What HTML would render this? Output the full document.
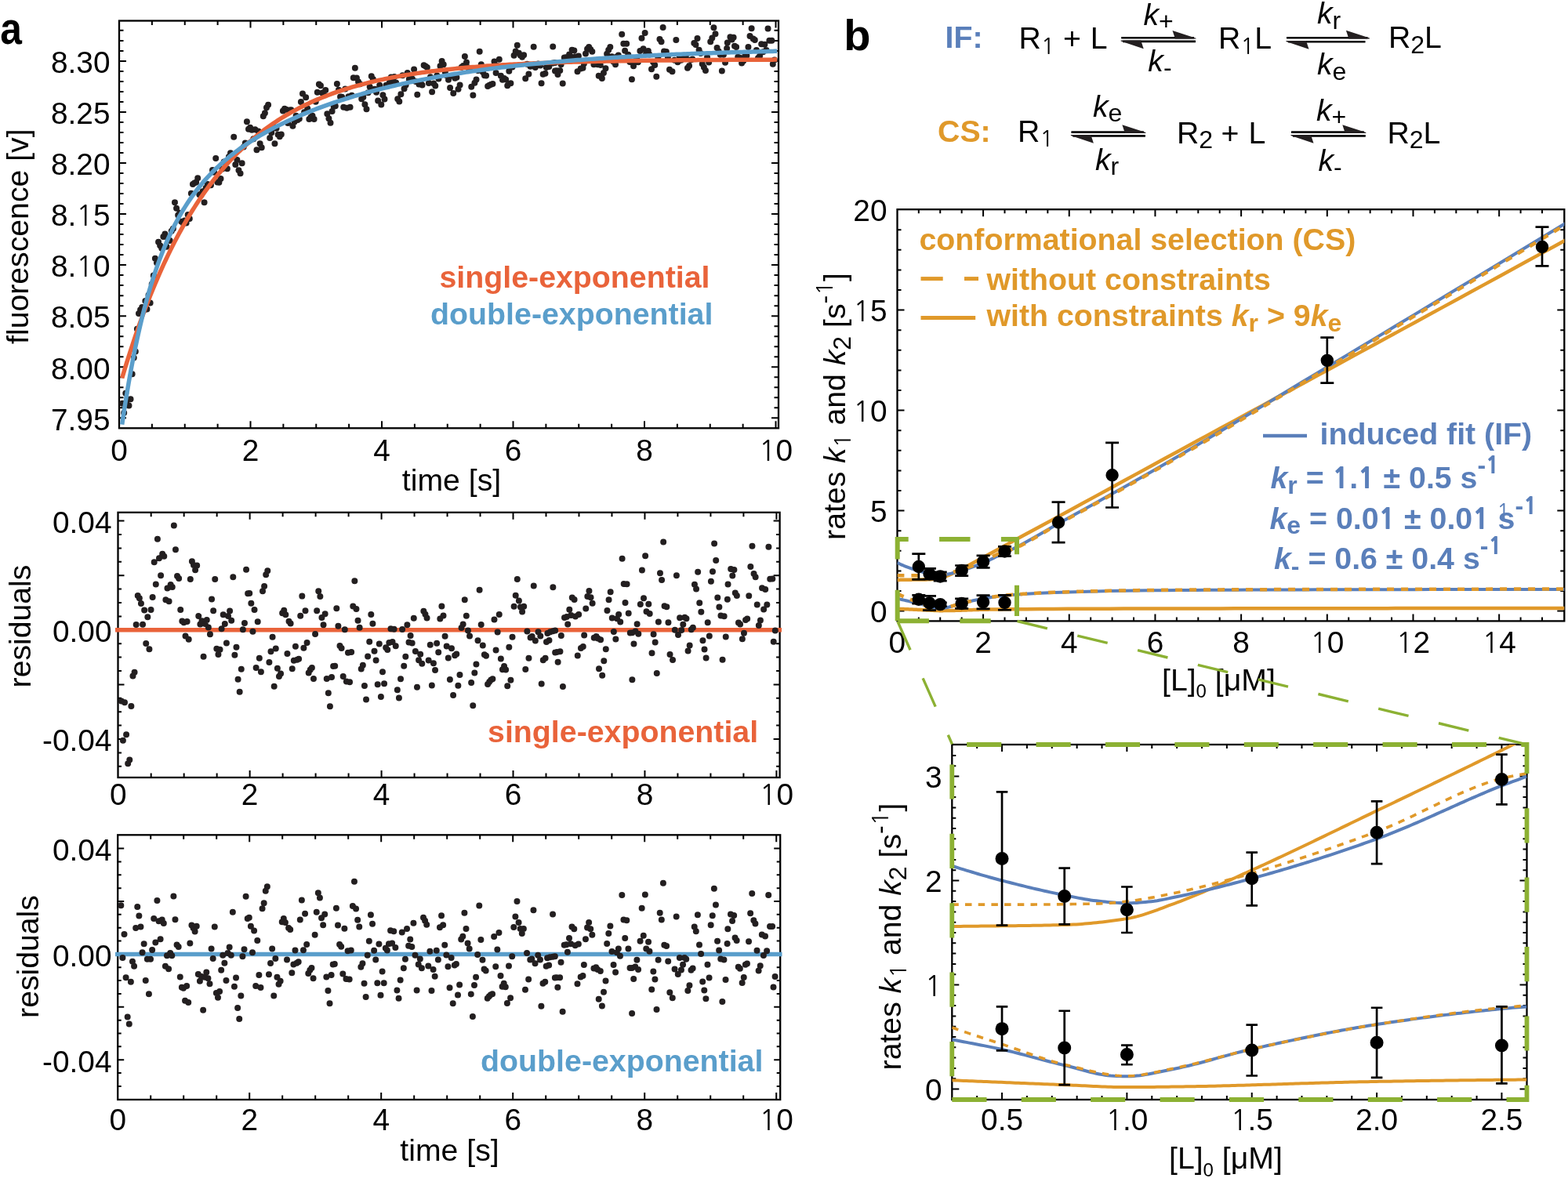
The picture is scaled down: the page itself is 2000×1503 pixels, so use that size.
<!DOCTYPE html>
<html><head><meta charset="utf-8"><title>Figure</title>
<style>html,body{margin:0;padding:0;background:#fff;}svg{display:block;}text{font-family:'Liberation Sans', Arial, Helvetica, sans-serif;}</style>
</head><body>
<svg xmlns="http://www.w3.org/2000/svg" width="2000" height="1503" viewBox="0 0 2000 1503">
<rect width="2000" height="1503" fill="#fff"/>
<rect x="152" y="26.5" width="841" height="519.8" fill="none" stroke="#000" stroke-width="2.3"/>
<path d="M319.5 546.3v-9M319.5 26.5v9M487 546.3v-9M487 26.5v9M654.5 546.3v-9M654.5 26.5v9M822 546.3v-9M822 26.5v9M989.5 546.3v-9M989.5 26.5v9" stroke="#000" stroke-width="2" fill="none"/>
<path d="M193.88 546.3v-5.5M193.88 26.5v5.5M235.75 546.3v-5.5M235.75 26.5v5.5M277.62 546.3v-5.5M277.62 26.5v5.5M361.38 546.3v-5.5M361.38 26.5v5.5M403.25 546.3v-5.5M403.25 26.5v5.5M445.12 546.3v-5.5M445.12 26.5v5.5M528.88 546.3v-5.5M528.88 26.5v5.5M570.75 546.3v-5.5M570.75 26.5v5.5M612.62 546.3v-5.5M612.62 26.5v5.5M696.38 546.3v-5.5M696.38 26.5v5.5M738.25 546.3v-5.5M738.25 26.5v5.5M780.12 546.3v-5.5M780.12 26.5v5.5M863.88 546.3v-5.5M863.88 26.5v5.5M905.75 546.3v-5.5M905.75 26.5v5.5M947.62 546.3v-5.5M947.62 26.5v5.5" stroke="#000" stroke-width="2" fill="none"/>
<path d="M152 533.25h9M993 533.25h-9M152 468.2h9M993 468.2h-9M152 403.15h9M993 403.15h-9M152 338.1h9M993 338.1h-9M152 273.05h9M993 273.05h-9M152 208h9M993 208h-9M152 142.95h9M993 142.95h-9M152 77.9h9M993 77.9h-9" stroke="#000" stroke-width="2" fill="none"/>
<path d="M152 520.24h5.5M993 520.24h-5.5M152 507.23h5.5M993 507.23h-5.5M152 494.22h5.5M993 494.22h-5.5M152 481.21h5.5M993 481.21h-5.5M152 455.19h5.5M993 455.19h-5.5M152 442.18h5.5M993 442.18h-5.5M152 429.17h5.5M993 429.17h-5.5M152 416.16h5.5M993 416.16h-5.5M152 390.14h5.5M993 390.14h-5.5M152 377.13h5.5M993 377.13h-5.5M152 364.12h5.5M993 364.12h-5.5M152 351.11h5.5M993 351.11h-5.5M152 325.09h5.5M993 325.09h-5.5M152 312.08h5.5M993 312.08h-5.5M152 299.07h5.5M993 299.07h-5.5M152 286.06h5.5M993 286.06h-5.5M152 260.04h5.5M993 260.04h-5.5M152 247.03h5.5M993 247.03h-5.5M152 234.02h5.5M993 234.02h-5.5M152 221.01h5.5M993 221.01h-5.5M152 194.99h5.5M993 194.99h-5.5M152 181.98h5.5M993 181.98h-5.5M152 168.97h5.5M993 168.97h-5.5M152 155.96h5.5M993 155.96h-5.5M152 129.94h5.5M993 129.94h-5.5M152 116.93h5.5M993 116.93h-5.5M152 103.92h5.5M993 103.92h-5.5M152 90.91h5.5M993 90.91h-5.5M152 64.89h5.5M993 64.89h-5.5M152 51.88h5.5M993 51.88h-5.5M152 38.87h5.5M993 38.87h-5.5" stroke="#000" stroke-width="2" fill="none"/>
<text x="140.5" y="93.2" font-size="38.8" text-anchor="end" font-weight="normal" fill="#000">8.30</text>
<text x="140.5" y="158.25" font-size="38.8" text-anchor="end" font-weight="normal" fill="#000">8.25</text>
<text x="140.5" y="223.3" font-size="38.8" text-anchor="end" font-weight="normal" fill="#000">8.20</text>
<text x="140.5" y="288.35" font-size="38.8" text-anchor="end" font-weight="normal" fill="#000">8.<tspan font-family="NanumGothic, Liberation Sans, sans-serif" font-size="0.92em">1</tspan>5</text>
<text x="140.5" y="353.4" font-size="38.8" text-anchor="end" font-weight="normal" fill="#000">8.<tspan font-family="NanumGothic, Liberation Sans, sans-serif" font-size="0.92em">1</tspan>0</text>
<text x="140.5" y="418.45" font-size="38.8" text-anchor="end" font-weight="normal" fill="#000">8.05</text>
<text x="140.5" y="483.5" font-size="38.8" text-anchor="end" font-weight="normal" fill="#000">8.00</text>
<text x="140.5" y="548.55" font-size="38.8" text-anchor="end" font-weight="normal" fill="#000">7.95</text>
<text x="152" y="587.5" font-size="38.8" text-anchor="middle" font-weight="normal" fill="#000">0</text>
<text x="319.5" y="587.5" font-size="38.8" text-anchor="middle" font-weight="normal" fill="#000">2</text>
<text x="487" y="587.5" font-size="38.8" text-anchor="middle" font-weight="normal" fill="#000">4</text>
<text x="654.5" y="587.5" font-size="38.8" text-anchor="middle" font-weight="normal" fill="#000">6</text>
<text x="822" y="587.5" font-size="38.8" text-anchor="middle" font-weight="normal" fill="#000">8</text>
<text x="989.5" y="587.5" font-size="38.8" text-anchor="middle" font-weight="normal" fill="#000"><tspan font-family="NanumGothic, Liberation Sans, sans-serif" font-size="0.92em">1</tspan>0</text>
<text x="576" y="626" font-size="39.2" text-anchor="middle" font-weight="normal" fill="#000">time [s]</text>
<text transform="translate(35.9 301.7) rotate(-90)" font-size="39.2" text-anchor="middle">fluorescence [v]</text>
<path d="M156.09 514.87h0M158.18 526.69h0M160.27 501.7h0M162.36 510.28h0M164.45 517.46h0M166.54 509.21h0M168.63 477.24h0M170.72 456.52h0M172.81 448.55h0M174.9 419.81h0M176.99 399.95h0M179.08 395.35h0M181.17 392.04h0M183.26 396.36h0M185.35 384.03h0M187.44 394.39h0M189.53 376.47h0M191.62 386.51h0M193.71 362.52h0M195.8 351.41h0M197.89 329.66h0M199.98 335.32h0M202.07 308.8h0M204.16 313.23h0M206.25 316.74h0M208.34 301.88h0M210.43 298.54h0M212.52 314.85h0M214.61 304.9h0M216.7 306.92h0M218.79 294.7h0M220.88 291.68h0M222.97 258.28h0M225.06 265.79h0M227.15 274.45h0M229.24 271.69h0M231.33 282.85h0M233.42 284.52h0M235.51 281.5h0M237.6 284.41h0M239.69 273.93h0M241.78 278.92h0M243.87 246.78h0M245.96 234.95h0M248.05 233.46h0M250.14 232.47h0M252.23 227.18h0M254.32 248.18h0M256.41 248.97h0M258.5 244.32h0M260.59 258.35h0M262.68 239.8h0M264.77 235.07h0M266.86 235.79h0M268.95 236.29h0M271.04 216.88h0M273.13 219.64h0M275.22 201.95h0M277.31 232.58h0M279.4 232.77h0M281.49 227.89h0M283.58 215.5h0M285.67 206.38h0M287.76 208.36h0M289.85 215.23h0M291.94 200.02h0M294.03 195.36h0M296.12 197.74h0M298.21 174.81h0M300.3 209.88h0M302.39 204h0M304.48 217.29h0M306.57 221.17h0M308.65 208.35h0M310.74 187.48h0M312.83 182.54h0M314.92 155.14h0M317.01 164.64h0M319.1 162.73h0M321.19 165.7h0M323.28 177.32h0M325.37 165.24h0M327.46 191.19h0M329.55 167.55h0M331.64 183.29h0M333.73 188.27h0M335.82 148.13h0M337.91 144.24h0M340 137.14h0M342.09 133.82h0M344.18 175.93h0M346.27 169.31h0M348.36 161.03h0M350.45 183.13h0M352.54 163.71h0M354.63 171.82h0M356.72 174.27h0M358.81 171.62h0M360.9 141.47h0M362.99 138.85h0M365.08 139.74h0M367.17 157.09h0M369.26 140.48h0M371.35 140.33h0M373.44 160.68h0M375.53 155.59h0M377.62 147.76h0M379.71 153.05h0M381.8 151.61h0M383.89 129.95h0M385.98 119.47h0M388.07 143.19h0M390.16 124.37h0M392.25 138.62h0M394.34 152.07h0M396.43 149.62h0M398.52 147.71h0M400.61 152.02h0M402.7 129.81h0M404.79 117.8h0M406.88 107.58h0M408.97 109.22h0M411.06 118.43h0M413.15 121.07h0M415.24 115.03h0M417.33 145.13h0M419.42 151.19h0M421.51 156.77h0M423.6 142.03h0M425.69 136.08h0M427.78 135.22h0M429.87 107.02h0M431.96 114.68h0M434.05 123.44h0M436.14 123.84h0M438.23 136.65h0M440.32 113.61h0M442.41 137.76h0M444.5 123.36h0M446.59 136.74h0M448.68 121.82h0M450.77 99.35h0M452.86 86.7h0M454.95 99.46h0M457.04 104.35h0M459.13 107.15h0M461.22 126.34h0M463.31 124.03h0M465.4 133.26h0M467.49 139.31h0M469.58 118.25h0M471.67 110.67h0M473.76 97.17h0M475.85 101.09h0M477.94 113.7h0M480.03 117.63h0M482.12 128.58h0M484.21 108.85h0M486.3 133.56h0M488.39 121.28h0M490.48 126.48h0M492.57 108.82h0M494.66 109.39h0M496.75 105.65h0M498.84 98.58h0M500.93 104.4h0M503.02 97.98h0M505.11 105.58h0M507.2 126.14h0M509.29 129.6h0M511.38 120.18h0M513.47 96.16h0M515.56 113.33h0M517.65 108.46h0M519.74 93.02h0M521.83 100.98h0M523.92 97.42h0M526.01 100.65h0M528.1 88.46h0M530.19 103.94h0M532.28 120.77h0M534.37 107.57h0M536.46 104.46h0M538.55 108.58h0M540.64 83.26h0M542.73 84.48h0M544.82 85.97h0M546.91 105.9h0M549 98.29h0M551.09 117.31h0M553.18 106.52h0M555.27 109.54h0M557.36 96.44h0M559.45 100.54h0M561.54 84.27h0M563.63 78.08h0M565.72 82.36h0M567.81 91.92h0M569.9 96.42h0M571.99 101.79h0M574.08 111.9h0M576.17 96.78h0M578.26 118.93h0M580.35 99.72h0M582.44 98.85h0M584.53 113.78h0M586.62 108.44h0M588.71 85.74h0M590.8 83.91h0M592.89 72.05h0M594.98 79.5h0M597.07 86.36h0M599.16 88.75h0M601.25 110.82h0M603.34 121.58h0M605.43 105.8h0M607.52 101.57h0M609.61 90.11h0M611.7 65.77h0M613.79 82.2h0M615.88 91.95h0M617.97 96.2h0M620.06 96.62h0M622.15 109.99h0M624.24 108.74h0M626.33 107.66h0M628.42 107.02h0M630.51 78.55h0M632.6 93.01h0M634.69 84.34h0M636.78 75.78h0M638.87 96.77h0M640.96 101.8h0M643.05 100.04h0M645.14 101.57h0M647.23 109.25h0M649.32 90.68h0M651.41 106.24h0M653.5 85.51h0M655.59 70.87h0M657.68 65.46h0M659.77 57.68h0M661.86 67.86h0M663.95 70.71h0M666.04 72.8h0M668.13 70.26h0M670.22 100.13h0M672.31 81.85h0M674.4 94.58h0M676.49 84.66h0M678.58 84.07h0M680.67 59.81h0M682.76 85.92h0M686.4 81.52h0M689.18 83.41h0M690.57 106.19h0M692.66 94.78h0M695.45 93.76h0M696.84 85.92h0M698.23 81.75h0M700.32 85.06h0M701.71 81h0M705.2 59.55h0M705.2 80.47h0M707.98 80.07h0M707.98 90.58h0M710.07 90.29h0M711.46 95.02h0M714.25 89.93h0M715.64 82.27h0M717.73 106.46h0M719.82 73.5h0M722.61 73.06h0M724 76.56h0M726.09 69.54h0M728.18 72.18h0M729.57 63.71h0M732.35 64.57h0M733.75 72.55h0M736.53 91.21h0M737.92 71.53h0M740.71 87.5h0M743.5 86.75h0M744.89 81.25h0M746.98 68.48h0M749.07 62.61h0M751.16 59.93h0M753.24 63.02h0M755.33 65.73h0M757.42 82.14h0M760.21 81.41h0M762.3 82.34h0M763.69 96.81h0M765.78 82.92h0M767.87 99.93h0M769.96 92.89h0M772.46 87.23h0M774.13 68.78h0M776.22 63.64h0M778.31 59.89h0M780.4 72.27h0M782.49 78.72h0M785 82.23h0M786.67 72.43h0M788.76 70.41h0M790.85 73.9h0M793.21 43.73h0M795.3 55.74h0M797.11 64.69h0M799.2 55.78h0M801.29 69.69h0M803.38 79.01h0M805.94 78.86h0M805.94 101.24h0M808.03 84.14h0M810.12 78.1h0M812.21 74.64h0M813.88 79.24h0M816.39 65.09h0M818.48 48.8h0M820.57 62.18h0M822.66 41.96h0M824.05 68.47h0M826.83 64.93h0M828.23 69.5h0M831.01 88.24h0M833.1 79.19h0M835.19 83.02h0M837.28 97.75h0M839.37 73.28h0M841.46 49.99h0M843.55 53.24h0M845.63 35.08h0M847.03 65.59h0M849.81 65.9h0M851.9 73.35h0M853.99 88.63h0M857.47 91.17h0M860.26 76.87h0M862.35 50.9h0M864.44 79.18h0M866.53 71h0M868.61 76.85h0M870.7 74.17h0M872.79 70.75h0M874.88 71.31h0M876.97 86.76h0M879.06 84.09h0M881.15 76.46h0M883.24 75.57h0M885.33 55h0M887.42 57.07h0M889.5 48.91h0M891.59 63.66h0M893.68 68h0M895.77 81.57h0M897.86 85.81h0M899.95 89.89h0M902.04 72.99h0M904.13 79.39h0M906.22 53.33h0M908.31 48.62h0M910.39 35.23h0M912.48 43.25h0M914.57 60.97h0M916.66 65.49h0M918.75 69.63h0M920.84 90.59h0M922.93 69.87h0M925.02 79.67h0M927.11 61.81h0M927.8 54.62h0M931.44 47.25h0M933.53 50.42h0M935.62 47.66h0M937.01 58.68h0M939.1 59.97h0M941.2 72.87h0M943.29 73.61h0M946.08 80.55h0M948.17 77.79h0M950.26 71.53h0M952.35 70.93h0M954.44 59.97h0M956.53 45.99h0M958.62 36.21h0M960.71 49.38h0M962.8 50.95h0M964.89 64.12h0M966.99 74.05h0M969.08 71.57h0M971.17 56.13h0M973.26 66.33h0M975.35 56.83h0M977.44 64.07h0M979.53 36.49h0M981.34 51.83h0M984.41 51.76h0M985.81 81.68h0M987.9 76.4h0" stroke="#231F20" stroke-width="8" stroke-linecap="round" fill="none"/>
<polyline points="155.69,482.35 158.48,473.01 161.27,463.89 164.07,454.97 166.86,446.26 169.66,437.75 172.45,429.44 175.24,421.31 178.04,413.38 180.83,405.62 183.63,398.04 186.42,390.64 189.22,383.41 192.01,376.34 194.8,369.44 197.6,362.69 200.39,356.1 203.19,349.66 205.98,343.37 208.78,337.22 211.57,331.22 214.36,325.35 217.16,319.62 219.95,314.01 222.75,308.54 225.54,303.19 228.34,297.97 231.13,292.87 233.92,287.88 236.72,283.01 239.51,278.25 242.31,273.59 245.1,269.05 247.9,264.61 250.69,260.27 253.48,256.03 256.28,251.89 259.07,247.85 261.87,243.89 264.66,240.03 267.46,236.26 270.25,232.57 273.04,228.97 275.84,225.45 278.63,222.01 281.43,218.65 284.22,215.37 287.02,212.16 289.81,209.03 292.6,205.96 295.4,202.97 298.19,200.05 300.99,197.19 303.78,194.4 306.58,191.68 309.37,189.02 312.16,186.41 314.96,183.87 317.75,181.39 320.55,178.96 323.34,176.59 326.14,174.27 328.93,172.01 331.72,169.8 334.52,167.64 337.31,165.53 340.11,163.46 342.9,161.45 345.7,159.48 348.49,157.56 351.28,155.68 354.08,153.84 356.87,152.05 359.67,150.29 362.46,148.58 365.26,146.91 368.05,145.27 370.84,143.67 373.64,142.11 376.43,140.59 379.23,139.1 382.02,137.64 384.82,136.22 387.61,134.83 390.4,133.47 393.2,132.15 395.99,130.85 398.79,129.58 401.58,128.35 404.38,127.14 407.17,125.96 409.96,124.8 412.76,123.68 415.55,122.58 418.35,121.5 421.14,120.45 423.94,119.42 426.73,118.42 429.52,117.44 432.32,116.48 435.11,115.54 437.91,114.63 440.7,113.73 443.5,112.86 446.29,112.01 449.08,111.17 451.88,110.36 454.67,109.56 457.47,108.79 460.26,108.03 463.06,107.29 465.85,106.56 468.64,105.85 471.44,105.16 474.23,104.48 477.03,103.82 479.82,103.18 482.62,102.55 485.41,101.93 488.2,101.33 491,100.74 493.79,100.17 496.59,99.6 499.38,99.06 502.18,98.52 504.97,98 507.76,97.48 510.56,96.98 513.35,96.5 516.15,96.02 518.94,95.55 521.74,95.1 524.53,94.65 527.32,94.22 530.12,93.79 532.91,93.38 535.71,92.97 538.5,92.58 541.3,92.19 544.09,91.81 546.88,91.44 549.68,91.08 552.47,90.73 555.27,90.38 558.06,90.05 560.86,89.72 563.65,89.39 566.44,89.08 569.24,88.77 572.03,88.47 574.83,88.18 577.62,87.89 580.42,87.62 583.21,87.34 586,87.07 588.8,86.81 591.59,86.56 594.39,86.31 597.18,86.07 599.98,85.83 602.77,85.6 605.56,85.37 608.36,85.15 611.15,84.93 613.95,84.72 616.74,84.51 619.54,84.31 622.33,84.11 625.12,83.92 627.92,83.73 630.71,83.55 633.51,83.37 636.3,83.19 639.1,83.02 641.89,82.85 644.68,82.69 647.48,82.53 650.27,82.37 653.07,82.22 655.86,82.07 658.66,81.93 661.45,81.78 664.24,81.64 667.04,81.51 669.83,81.37 672.63,81.24 675.42,81.12 678.22,80.99 681.01,80.87 683.8,80.75 686.6,80.64 689.39,80.53 692.19,80.42 694.98,80.31 697.78,80.2 700.57,80.1 703.36,80 706.16,79.9 708.95,79.8 711.75,79.71 714.54,79.62 717.34,79.53 720.13,79.44 722.92,79.36 725.72,79.27 728.51,79.19 731.31,79.11 734.1,79.03 736.9,78.96 739.69,78.88 742.48,78.81 745.28,78.74 748.07,78.67 750.87,78.6 753.66,78.54 756.46,78.47 759.25,78.41 762.04,78.35 764.84,78.29 767.63,78.23 770.43,78.17 773.22,78.11 776.02,78.06 778.81,78 781.6,77.95 784.4,77.9 787.19,77.85 789.99,77.8 792.78,77.75 795.58,77.71 798.37,77.66 801.16,77.62 803.96,77.57 806.75,77.53 809.55,77.49 812.34,77.45 815.14,77.41 817.93,77.37 820.72,77.33 823.52,77.29 826.31,77.26 829.11,77.22 831.9,77.19 834.7,77.15 837.49,77.12 840.28,77.09 843.08,77.06 845.87,77.03 848.67,77 851.46,76.97 854.26,76.94 857.05,76.91 859.84,76.88 862.64,76.86 865.43,76.83 868.23,76.8 871.02,76.78 873.82,76.76 876.61,76.73 879.4,76.71 882.2,76.69 884.99,76.66 887.79,76.64 890.58,76.62 893.38,76.6 896.17,76.58 898.96,76.56 901.76,76.54 904.55,76.52 907.35,76.5 910.14,76.49 912.94,76.47 915.73,76.45 918.52,76.43 921.32,76.42 924.11,76.4 926.91,76.39 929.7,76.37 932.5,76.36 935.29,76.34 938.08,76.33 940.88,76.31 943.67,76.3 946.47,76.29 949.26,76.27 952.06,76.26 954.85,76.25 957.64,76.23 960.44,76.22 963.23,76.21 966.03,76.2 968.82,76.19 971.62,76.18 974.41,76.17 977.2,76.16 980,76.15 982.79,76.14 985.59,76.13 988.38,76.12 991.17,76.11" fill="none" stroke="#E9633A" stroke-width="5.5" stroke-linejoin="round"/>
<polyline points="155.69,541.61 158.48,522.93 161.27,505.32 164.07,488.72 166.86,473.06 169.66,458.28 172.45,444.32 175.24,431.13 178.04,418.66 180.83,406.87 183.63,395.7 186.42,385.13 189.22,375.1 192.01,365.6 194.8,356.58 197.6,348.02 200.39,339.88 203.19,332.14 205.98,324.78 208.78,317.77 211.57,311.08 214.36,304.71 217.16,298.63 219.95,292.82 222.75,287.27 225.54,281.95 228.34,276.87 231.13,271.99 233.92,267.32 236.72,262.84 239.51,258.53 242.31,254.39 245.1,250.41 247.9,246.58 250.69,242.88 253.48,239.32 256.28,235.89 259.07,232.57 261.87,229.36 264.66,226.26 267.46,223.26 270.25,220.36 273.04,217.54 275.84,214.81 278.63,212.16 281.43,209.59 284.22,207.09 287.02,204.65 289.81,202.29 292.6,199.99 295.4,197.74 298.19,195.56 300.99,193.43 303.78,191.35 306.58,189.32 309.37,187.34 312.16,185.4 314.96,183.51 317.75,181.66 320.55,179.85 323.34,178.07 326.14,176.34 328.93,174.64 331.72,172.97 334.52,171.34 337.31,169.74 340.11,168.17 342.9,166.63 345.7,165.12 348.49,163.64 351.28,162.18 354.08,160.75 356.87,159.34 359.67,157.96 362.46,156.61 365.26,155.27 368.05,153.96 370.84,152.67 373.64,151.4 376.43,150.15 379.23,148.92 382.02,147.71 384.82,146.52 387.61,145.35 390.4,144.2 393.2,143.07 395.99,141.95 398.79,140.85 401.58,139.76 404.38,138.69 407.17,137.64 409.96,136.61 412.76,135.58 415.55,134.58 418.35,133.59 421.14,132.61 423.94,131.64 426.73,130.69 429.52,129.76 432.32,128.83 435.11,127.92 437.91,127.03 440.7,126.14 443.5,125.27 446.29,124.41 449.08,123.56 451.88,122.72 454.67,121.9 457.47,121.09 460.26,120.28 463.06,119.49 465.85,118.71 468.64,117.94 471.44,117.18 474.23,116.43 477.03,115.69 479.82,114.96 482.62,114.25 485.41,113.54 488.2,112.84 491,112.14 493.79,111.46 496.59,110.79 499.38,110.13 502.18,109.47 504.97,108.83 507.76,108.19 510.56,107.56 513.35,106.94 516.15,106.33 518.94,105.73 521.74,105.13 524.53,104.54 527.32,103.96 530.12,103.39 532.91,102.83 535.71,102.27 538.5,101.72 541.3,101.18 544.09,100.64 546.88,100.11 549.68,99.59 552.47,99.08 555.27,98.57 558.06,98.07 560.86,97.58 563.65,97.09 566.44,96.61 569.24,96.13 572.03,95.66 574.83,95.2 577.62,94.75 580.42,94.29 583.21,93.85 586,93.41 588.8,92.98 591.59,92.55 594.39,92.13 597.18,91.71 599.98,91.3 602.77,90.9 605.56,90.5 608.36,90.1 611.15,89.71 613.95,89.33 616.74,88.95 619.54,88.58 622.33,88.21 625.12,87.84 627.92,87.48 630.71,87.13 633.51,86.78 636.3,86.43 639.1,86.09 641.89,85.76 644.68,85.42 647.48,85.1 650.27,84.77 653.07,84.45 655.86,84.14 658.66,83.83 661.45,83.52 664.24,83.22 667.04,82.92 669.83,82.62 672.63,82.33 675.42,82.05 678.22,81.76 681.01,81.48 683.8,81.21 686.6,80.93 689.39,80.66 692.19,80.4 694.98,80.14 697.78,79.88 700.57,79.62 703.36,79.37 706.16,79.12 708.95,78.88 711.75,78.64 714.54,78.4 717.34,78.16 720.13,77.93 722.92,77.7 725.72,77.47 728.51,77.25 731.31,77.03 734.1,76.81 736.9,76.6 739.69,76.39 742.48,76.18 745.28,75.97 748.07,75.77 750.87,75.57 753.66,75.37 756.46,75.17 759.25,74.98 762.04,74.79 764.84,74.6 767.63,74.41 770.43,74.23 773.22,74.05 776.02,73.87 778.81,73.69 781.6,73.52 784.4,73.35 787.19,73.18 789.99,73.01 792.78,72.85 795.58,72.69 798.37,72.52 801.16,72.37 803.96,72.21 806.75,72.06 809.55,71.9 812.34,71.75 815.14,71.6 817.93,71.46 820.72,71.31 823.52,71.17 826.31,71.03 829.11,70.89 831.9,70.75 834.7,70.62 837.49,70.49 840.28,70.35 843.08,70.22 845.87,70.1 848.67,69.97 851.46,69.84 854.26,69.72 857.05,69.6 859.84,69.48 862.64,69.36 865.43,69.24 868.23,69.13 871.02,69.01 873.82,68.9 876.61,68.79 879.4,68.68 882.2,68.57 884.99,68.47 887.79,68.36 890.58,68.26 893.38,68.15 896.17,68.05 898.96,67.95 901.76,67.85 904.55,67.76 907.35,67.66 910.14,67.57 912.94,67.47 915.73,67.38 918.52,67.29 921.32,67.2 924.11,67.11 926.91,67.02 929.7,66.94 932.5,66.85 935.29,66.77 938.08,66.69 940.88,66.6 943.67,66.52 946.47,66.44 949.26,66.36 952.06,66.29 954.85,66.21 957.64,66.13 960.44,66.06 963.23,65.99 966.03,65.91 968.82,65.84 971.62,65.77 974.41,65.7 977.2,65.63 980,65.56 982.79,65.5 985.59,65.43 988.38,65.36 991.17,65.3" fill="none" stroke="#5A9ECB" stroke-width="5.5" stroke-linejoin="round"/>
<text x="560.5" y="367" font-size="39.3" text-anchor="start" font-weight="bold" fill="#E9633A">single-exponential</text>
<text x="549.1" y="414" font-size="39.3" text-anchor="start" font-weight="bold" fill="#5A9ECB">double-exponential</text>
<rect x="150.5" y="653.8" width="844.1" height="338.2" fill="none" stroke="#000" stroke-width="2.3"/>
<path d="M318.64 992v-9M318.64 653.8v9M486.58 992v-9M486.58 653.8v9M654.52 992v-9M654.52 653.8v9M822.46 992v-9M822.46 653.8v9M990.4 992v-9M990.4 653.8v9" stroke="#000" stroke-width="2" fill="none"/>
<path d="M192.69 992v-5.5M192.69 653.8v5.5M234.67 992v-5.5M234.67 653.8v5.5M276.65 992v-5.5M276.65 653.8v5.5M360.62 992v-5.5M360.62 653.8v5.5M402.61 992v-5.5M402.61 653.8v5.5M444.59 992v-5.5M444.59 653.8v5.5M528.57 992v-5.5M528.57 653.8v5.5M570.55 992v-5.5M570.55 653.8v5.5M612.53 992v-5.5M612.53 653.8v5.5M696.5 992v-5.5M696.5 653.8v5.5M738.49 992v-5.5M738.49 653.8v5.5M780.47 992v-5.5M780.47 653.8v5.5M864.44 992v-5.5M864.44 653.8v5.5M906.43 992v-5.5M906.43 653.8v5.5M948.41 992v-5.5M948.41 653.8v5.5" stroke="#000" stroke-width="2" fill="none"/>
<path d="M150.5 943h8M994.6 943h-8M150.5 873.4h8M994.6 873.4h-8M150.5 803.8h8M994.6 803.8h-8M150.5 734.2h8M994.6 734.2h-8M150.5 664.6h8M994.6 664.6h-8" stroke="#000" stroke-width="2" fill="none"/>
<path d="M150.5 977.8h4.5M994.6 977.8h-4.5M150.5 960.4h4.5M994.6 960.4h-4.5M150.5 925.6h4.5M994.6 925.6h-4.5M150.5 908.2h4.5M994.6 908.2h-4.5M150.5 890.8h4.5M994.6 890.8h-4.5M150.5 856h4.5M994.6 856h-4.5M150.5 838.6h4.5M994.6 838.6h-4.5M150.5 821.2h4.5M994.6 821.2h-4.5M150.5 786.4h4.5M994.6 786.4h-4.5M150.5 769h4.5M994.6 769h-4.5M150.5 751.6h4.5M994.6 751.6h-4.5M150.5 716.8h4.5M994.6 716.8h-4.5M150.5 699.4h4.5M994.6 699.4h-4.5M150.5 682h4.5M994.6 682h-4.5" stroke="#000" stroke-width="2" fill="none"/>
<text x="142.5" y="679.9" font-size="38.8" text-anchor="end" font-weight="normal" fill="#000">0.04</text>
<text x="142.5" y="819.1" font-size="38.8" text-anchor="end" font-weight="normal" fill="#000">0.00</text>
<text x="142.5" y="958.3" font-size="38.8" text-anchor="end" font-weight="normal" fill="#000">-0.04</text>
<text x="150.7" y="1027" font-size="38.8" text-anchor="middle" font-weight="normal" fill="#000">0</text>
<text x="318.64" y="1027" font-size="38.8" text-anchor="middle" font-weight="normal" fill="#000">2</text>
<text x="486.58" y="1027" font-size="38.8" text-anchor="middle" font-weight="normal" fill="#000">4</text>
<text x="654.52" y="1027" font-size="38.8" text-anchor="middle" font-weight="normal" fill="#000">6</text>
<text x="822.46" y="1027" font-size="38.8" text-anchor="middle" font-weight="normal" fill="#000">8</text>
<text x="990.4" y="1027" font-size="38.8" text-anchor="middle" font-weight="normal" fill="#000"><tspan font-family="NanumGothic, Liberation Sans, sans-serif" font-size="0.92em">1</tspan>0</text>
<text transform="translate(39 799) rotate(-90)" font-size="39.2" text-anchor="middle">residuals</text>
<line x1="147" y1="803.8" x2="997" y2="803.8" stroke="#E9633A" stroke-width="5.5"/>
<path d="M154.8 894.43h0M156.89 944.73h0M158.99 896.22h0M161.08 937.21h0M163.18 974.16h0M165.28 969.5h0M167.37 901.1h0M169.47 862.52h0M171.56 857.73h0M173.66 797.12h0M175.75 759.95h0M177.85 763.36h0M179.94 769.93h0M182.04 796.64h0M184.13 778.55h0M186.23 820.91h0M188.33 787.37h0M190.42 828.36h0M192.52 778.09h0M194.61 762.04h0M196.71 717.28h0M198.8 745.62h0M200.9 687.64h0M202.99 712.24h0M205.09 734.13h0M207.18 706.71h0M209.28 709.87h0M211.38 765.37h0M213.47 750.44h0M215.57 767.33h0M217.66 745.91h0M219.76 748.94h0M221.85 670.5h0M223.95 701.28h0M226.04 734.96h0M228.14 737.92h0M230.23 777.94h0M232.33 792.41h0M234.43 794.15h0M236.52 811.58h0M238.62 793.04h0M240.71 815.69h0M242.81 738.9h0M244.9 716.26h0M247 721.1h0M249.09 727.14h0M251.19 721.55h0M253.28 786.11h0M255.38 796.48h0M257.48 792.16h0M259.57 837.64h0M261.67 795.88h0M263.76 790.91h0M265.86 800.39h0M267.95 809.16h0M270.05 764.57h0M272.14 779.13h0M274.24 738.88h0M276.33 827.72h0M278.43 835.07h0M280.53 828.71h0M282.62 802.15h0M284.72 784.23h0M286.81 795.88h0M288.91 820.49h0M291 785.95h0M293.1 779.52h0M295.19 791.83h0M297.29 736.32h0M299.38 835.86h0M301.48 825.75h0M303.58 866.83h0M305.67 882.65h0M307.77 853.72h0M309.86 803.14h0M311.96 795.08h0M314.05 726.85h0M316.15 757.26h0M318.24 757.06h0M320.34 769.82h0M322.43 805.64h0M324.53 777.96h0M326.63 851.94h0M328.72 793.2h0M330.82 839.72h0M332.91 857.37h0M335.01 754.27h0M337.1 748.06h0M339.2 733.18h0M341.29 728.37h0M343.39 844.98h0M345.48 831.17h0M347.58 812.86h0M349.68 875.74h0M351.77 827.52h0M353.87 852.85h0M355.96 863h0M358.06 859.42h0M360.15 782.25h0M362.25 778.63h0M364.34 784.35h0M366.44 834.05h0M368.53 792.85h0M370.63 795.61h0M372.73 853.17h0M374.82 842.63h0M376.92 824.7h0M379.01 841.8h0M381.11 840.85h0M383.2 785.79h0M385.3 760.56h0M387.39 826.77h0M389.49 779.14h0M391.58 819.92h0M393.68 858.51h0M395.78 854.53h0M397.87 851.98h0M399.97 865.99h0M402.06 809.02h0M404.16 779.29h0M406.25 754.31h0M408.35 761.04h0M410.44 787.94h0M412.54 797.24h0M414.63 783.29h0M416.73 865.97h0M418.83 884.3h0M420.92 901.32h0M423.02 863.95h0M425.11 850.07h0M427.21 849.73h0M429.3 776.25h0M431.4 798.68h0M433.49 823.98h0M435.59 826.91h0M437.68 863h0M439.78 803.16h0M441.88 869.51h0M443.97 832.72h0M446.07 870.21h0M448.16 831.96h0M450.26 773.5h0M452.35 741.28h0M454.45 776.99h0M456.54 791.63h0M458.64 800.63h0M460.73 853.48h0M462.83 848.76h0M464.93 874.9h0M467.02 892.53h0M469.12 837.58h0M471.21 818.7h0M473.31 783.93h0M475.4 795.75h0M477.5 830.78h0M479.59 842.59h0M481.69 873.13h0M483.78 821.6h0M485.88 888.91h0M487.98 857.27h0M490.07 872.36h0M492.17 826.28h0M494.26 828.94h0M496.36 820.07h0M498.45 802.24h0M500.55 818.88h0M502.64 802.78h0M504.74 824.17h0M506.83 880.17h0M508.93 890.45h0M511.03 866.24h0M513.12 802.94h0M515.22 849.84h0M517.31 837.74h0M519.41 797.36h0M521.5 819.59h0M523.6 810.93h0M525.69 820.45h0M527.79 788.72h0M529.88 830.97h0M531.98 876.83h0M534.08 842.35h0M536.17 834.83h0M538.27 846.64h0M540.36 779.69h0M542.46 783.7h0M544.55 788.43h0M546.65 842.5h0M548.74 822.85h0M550.84 874.45h0M552.93 846.29h0M555.03 855.05h0M557.13 820.68h0M559.22 832.32h0M561.32 789.44h0M563.41 773.53h0M565.51 785.6h0M567.6 811.81h0M569.7 824.45h0M571.79 839.4h0M573.89 867.05h0M575.98 827.18h0M578.08 886.99h0M580.18 836.17h0M582.27 834.38h0M584.37 874.86h0M586.46 861.1h0M588.56 800.9h0M590.65 796.51h0M592.75 765.3h0M594.84 785.72h0M596.94 804.56h0M599.03 811.43h0M601.13 870.95h0M603.23 900.17h0M605.32 858.43h0M607.42 847.55h0M609.51 817.35h0M611.61 752.67h0M613.7 797.04h0M615.8 823.52h0M617.89 835.29h0M619.99 836.82h0M622.08 872.97h0M624.18 870.03h0M626.28 867.53h0M628.37 866.18h0M630.47 790.4h0M632.56 829.43h0M634.66 806.59h0M636.75 784.04h0M638.85 840.53h0M640.94 854.33h0M643.04 849.95h0M645.13 854.38h0M647.23 875.24h0M649.33 825.87h0M651.42 867.8h0M653.52 812.65h0M655.61 773.81h0M657.71 759.63h0M659.8 739.11h0M661.9 766.62h0M663.99 774.51h0M666.09 780.39h0M668.18 773.86h0M670.28 854.02h0M672.38 805.38h0M674.47 839.68h0M676.57 813.39h0M678.66 812.07h0M680.76 747.42h0M682.85 817.49h0M686.5 806.13h0M689.29 811.48h0M690.69 872.58h0M692.78 842.27h0M695.58 839.84h0M696.97 819h0M698.37 807.98h0M700.46 817.05h0M701.86 806.32h0M705.35 749.28h0M705.35 805.24h0M708.14 804.41h0M708.14 832.54h0M710.24 831.96h0M711.63 844.74h0M714.43 831.37h0M715.82 810.98h0M717.92 875.88h0M720.01 787.89h0M722.8 786.93h0M724.2 796.41h0M726.29 777.8h0M728.39 785.02h0M729.79 762.47h0M732.58 764.98h0M733.97 786.43h0M736.77 836.55h0M738.16 784h0M740.96 826.91h0M743.75 825.11h0M745.15 810.5h0M747.24 776.48h0M749.33 760.92h0M751.43 753.88h0M753.52 762.27h0M755.62 769.65h0M757.71 813.67h0M760.51 811.88h0M762.6 814.51h0M764 853.28h0M766.09 816.25h0M768.19 861.86h0M770.28 843.15h0M772.79 828.14h0M774.47 778.9h0M776.56 765.23h0M778.66 755.33h0M780.75 788.55h0M782.85 805.9h0M785.36 815.42h0M787.04 789.27h0M789.13 783.98h0M791.22 793.41h0M793.6 712.8h0M795.69 745.03h0M797.51 769.06h0M799.6 745.32h0M801.7 782.59h0M803.79 807.61h0M806.36 807.34h0M806.36 867.2h0M808.46 821.54h0M810.55 805.45h0M812.64 796.29h0M814.32 808.66h0M816.83 770.9h0M818.93 727.41h0M821.02 763.26h0M823.12 709.25h0M824.51 780.22h0M827.31 770.85h0M828.7 783.12h0M831.5 833.33h0M833.59 809.18h0M835.68 819.51h0M837.78 858.98h0M839.87 793.58h0M841.97 731.36h0M844.06 740.1h0M846.16 691.59h0M847.55 773.24h0M850.35 774.14h0M852.44 794.14h0M854.53 835.06h0M858.03 841.96h0M860.82 803.78h0M862.91 734.36h0M865.01 810.05h0M867.1 788.23h0M869.2 803.92h0M871.29 796.82h0M873.39 787.7h0M875.48 789.26h0M877.57 830.62h0M879.67 823.53h0M881.76 803.16h0M883.86 800.83h0M885.95 745.85h0M888.05 751.45h0M890.14 729.65h0M892.24 769.15h0M894.33 780.82h0M896.43 817.15h0M898.52 828.53h0M900.61 839.47h0M902.71 794.31h0M904.8 811.46h0M906.9 741.78h0M908.99 729.22h0M911.09 693.44h0M913.18 714.93h0M915.28 762.38h0M917.37 774.49h0M919.46 785.59h0M921.56 841.7h0M923.65 786.31h0M925.75 812.56h0M927.84 764.82h0M928.54 745.59h0M932.19 725.92h0M934.28 734.45h0M936.38 727.09h0M937.78 756.59h0M939.87 760.07h0M941.97 794.58h0M944.07 796.62h0M946.86 815.21h0M948.96 807.86h0M951.05 791.12h0M953.15 789.55h0M955.25 760.25h0M957.34 722.88h0M959.44 696.76h0M961.54 732.01h0M963.63 736.22h0M965.73 771.47h0M967.83 798.06h0M969.92 791.44h0M972.02 750.17h0M974.12 777.48h0M976.21 752.1h0M978.31 771.47h0M980.41 697.72h0M982.22 738.77h0M985.3 738.6h0M986.7 818.66h0M988.79 804.54h0" stroke="#231F20" stroke-width="8" stroke-linecap="round" fill="none"/>
<text x="622.1" y="947" font-size="39.3" text-anchor="start" font-weight="bold" fill="#E9633A">single-exponential</text>
<rect x="150.2" y="1065.3" width="845" height="337.7" fill="none" stroke="#000" stroke-width="2.3"/>
<path d="M318.2 1403v-9M318.2 1065.3v9M486.2 1403v-9M486.2 1065.3v9M654.2 1403v-9M654.2 1065.3v9M822.2 1403v-9M822.2 1065.3v9M990.2 1403v-9M990.2 1065.3v9" stroke="#000" stroke-width="2" fill="none"/>
<path d="M192.2 1403v-5.5M192.2 1065.3v5.5M234.2 1403v-5.5M234.2 1065.3v5.5M276.2 1403v-5.5M276.2 1065.3v5.5M360.2 1403v-5.5M360.2 1065.3v5.5M402.2 1403v-5.5M402.2 1065.3v5.5M444.2 1403v-5.5M444.2 1065.3v5.5M528.2 1403v-5.5M528.2 1065.3v5.5M570.2 1403v-5.5M570.2 1065.3v5.5M612.2 1403v-5.5M612.2 1065.3v5.5M696.2 1403v-5.5M696.2 1065.3v5.5M738.2 1403v-5.5M738.2 1065.3v5.5M780.2 1403v-5.5M780.2 1065.3v5.5M864.2 1403v-5.5M864.2 1065.3v5.5M906.2 1403v-5.5M906.2 1065.3v5.5M948.2 1403v-5.5M948.2 1065.3v5.5" stroke="#000" stroke-width="2" fill="none"/>
<path d="M150.2 1352.2h8M995.2 1352.2h-8M150.2 1284.8h8M995.2 1284.8h-8M150.2 1217.4h8M995.2 1217.4h-8M150.2 1150h8M995.2 1150h-8M150.2 1082.6h8M995.2 1082.6h-8" stroke="#000" stroke-width="2" fill="none"/>
<path d="M150.2 1385.9h4.5M995.2 1385.9h-4.5M150.2 1369.05h4.5M995.2 1369.05h-4.5M150.2 1335.35h4.5M995.2 1335.35h-4.5M150.2 1318.5h4.5M995.2 1318.5h-4.5M150.2 1301.65h4.5M995.2 1301.65h-4.5M150.2 1267.95h4.5M995.2 1267.95h-4.5M150.2 1251.1h4.5M995.2 1251.1h-4.5M150.2 1234.25h4.5M995.2 1234.25h-4.5M150.2 1200.55h4.5M995.2 1200.55h-4.5M150.2 1183.7h4.5M995.2 1183.7h-4.5M150.2 1166.85h4.5M995.2 1166.85h-4.5M150.2 1133.15h4.5M995.2 1133.15h-4.5M150.2 1116.3h4.5M995.2 1116.3h-4.5M150.2 1099.45h4.5M995.2 1099.45h-4.5" stroke="#000" stroke-width="2" fill="none"/>
<text x="142.5" y="1097.9" font-size="38.8" text-anchor="end" font-weight="normal" fill="#000">0.04</text>
<text x="142.5" y="1232.7" font-size="38.8" text-anchor="end" font-weight="normal" fill="#000">0.00</text>
<text x="142.5" y="1367.5" font-size="38.8" text-anchor="end" font-weight="normal" fill="#000">-0.04</text>
<text x="150.2" y="1441.5" font-size="38.8" text-anchor="middle" font-weight="normal" fill="#000">0</text>
<text x="318.2" y="1441.5" font-size="38.8" text-anchor="middle" font-weight="normal" fill="#000">2</text>
<text x="486.2" y="1441.5" font-size="38.8" text-anchor="middle" font-weight="normal" fill="#000">4</text>
<text x="654.2" y="1441.5" font-size="38.8" text-anchor="middle" font-weight="normal" fill="#000">6</text>
<text x="822.2" y="1441.5" font-size="38.8" text-anchor="middle" font-weight="normal" fill="#000">8</text>
<text x="990.2" y="1441.5" font-size="38.8" text-anchor="middle" font-weight="normal" fill="#000"><tspan font-family="NanumGothic, Liberation Sans, sans-serif" font-size="0.92em">1</tspan>0</text>
<text x="573.5" y="1481" font-size="39.2" text-anchor="middle" font-weight="normal" fill="#000">time [s]</text>
<text transform="translate(49 1220.5) rotate(-90)" font-size="39.2" text-anchor="middle">residuals</text>
<line x1="147" y1="1217.4" x2="997.5" y2="1217.4" stroke="#5A9ECB" stroke-width="5.5"/>
<path d="M154.3 1155.3h0M156.4 1222.07h0M158.49 1191.9h0M160.59 1247.21h0M162.68 1297.5h0M164.78 1306.44h0M166.88 1252.66h0M168.97 1226.82h0M171.07 1232.83h0M173.17 1183.94h0M175.26 1156.98h0M177.36 1168.57h0M179.45 1182.54h0M181.55 1215.37h0M183.65 1204.19h0M185.74 1250.99h0M187.84 1223.75h0M189.94 1268.17h0M192.03 1223.75h0M194.13 1212.01h0M196.22 1172.06h0M198.32 1202.52h0M200.42 1149.02h0M202.51 1175.14h0M204.61 1198.32h0M206.71 1173.46h0M208.8 1177.93h0M210.9 1232.83h0M212.99 1219.28h0M215.09 1236.32h0M217.19 1216.06h0M219.28 1219.28h0M221.38 1143.43h0M223.47 1173.18h0M225.57 1205.59h0M227.67 1208.1h0M229.76 1246.38h0M231.86 1259.79h0M233.96 1260.76h0M236.05 1276.83h0M238.15 1257.97h0M240.24 1278.92h0M242.34 1203.49h0M244.44 1180.45h0M246.53 1183.94h0M248.63 1188.55h0M250.73 1181.84h0M252.82 1243.02h0M254.92 1251.68h0M257.01 1246.1h0M259.11 1288.7h0M261.21 1246.8h0M263.3 1240.51h0M265.4 1248.19h0M267.49 1255.18h0M269.59 1210.48h0M271.69 1223.05h0M273.78 1182.54h0M275.88 1267.05h0M277.98 1272.64h0M280.07 1264.95h0M282.17 1237.72h0M284.26 1218.86h0M286.36 1228.64h0M288.46 1250.99h0M290.55 1216.06h0M292.65 1208.38h0M294.75 1218.86h0M296.84 1163.68h0M298.94 1258.67h0M301.03 1247.49h0M303.13 1285.91h0M305.23 1299.88h0M307.32 1270.54h0M309.42 1220.26h0M311.51 1211.18h0M313.61 1143.85h0M315.71 1172.06h0M317.8 1170.67h0M319.9 1181.84h0M322 1215.37h0M324.09 1187.43h0M326.19 1257.97h0M328.28 1200h0M330.38 1244h0M332.48 1260.07h0M334.57 1159.21h0M336.67 1152.23h0M338.77 1136.86h0M340.86 1131.28h0M342.96 1243.3h0M345.05 1229.06h0M347.15 1210.48h0M349.25 1270.54h0M351.34 1223.05h0M353.44 1246.8h0M355.54 1255.87h0M357.63 1251.68h0M359.73 1176.25h0M361.82 1172.06h0M363.92 1176.95h0M366.02 1224.45h0M368.11 1183.94h0M370.21 1186.03h0M372.3 1241.21h0M374.4 1230.45h0M376.5 1212.57h0M378.59 1228.64h0M380.69 1227.24h0M382.79 1173.46h0M384.88 1148.6h0M386.98 1212.29h0M389.07 1165.78h0M391.17 1204.89h0M393.27 1241.91h0M395.36 1237.72h0M397.46 1234.92h0M399.56 1248.19h0M401.65 1192.74h0M403.75 1163.68h0M405.84 1139.24h0M407.94 1145.52h0M410.04 1171.37h0M412.13 1180.17h0M414.23 1166.48h0M416.33 1246.38h0M418.42 1263.98h0M420.52 1280.32h0M422.61 1244h0M424.71 1230.45h0M426.81 1230.03h0M428.9 1158.79h0M431 1180.45h0M433.09 1204.89h0M435.19 1207.68h0M437.29 1242.6h0M439.38 1184.64h0M441.48 1248.89h0M443.58 1213.27h0M445.67 1249.59h0M447.77 1212.57h0M449.86 1156h0M451.96 1124.85h0M454.06 1159.49h0M456.15 1173.74h0M458.25 1182.54h0M460.35 1233.8h0M462.44 1229.33h0M464.54 1254.76h0M466.63 1271.94h0M468.73 1218.86h0M470.83 1200.7h0M472.92 1167.18h0M475.02 1178.77h0M477.11 1212.85h0M479.21 1224.45h0M481.31 1254.2h0M483.4 1204.47h0M485.5 1269.84h0M487.6 1239.39h0M489.69 1254.2h0M491.79 1209.78h0M493.88 1212.57h0M495.98 1204.19h0M498.08 1187.15h0M500.17 1203.49h0M502.27 1188.13h0M504.37 1209.08h0M506.46 1263.56h0M508.56 1273.75h0M510.65 1250.57h0M512.75 1189.52h0M514.85 1235.2h0M516.94 1223.75h0M519.04 1184.92h0M521.13 1206.71h0M523.23 1198.6h0M525.33 1208.1h0M527.42 1177.65h0M529.52 1218.86h0M531.62 1263.56h0M533.71 1230.45h0M535.81 1223.47h0M537.9 1235.2h0M540 1170.67h0M542.1 1174.86h0M544.19 1179.75h0M546.29 1232.41h0M548.39 1213.69h0M550.48 1263.98h0M552.58 1237.02h0M554.67 1245.82h0M556.77 1212.85h0M558.87 1224.45h0M560.96 1183.24h0M563.06 1168.15h0M565.16 1180.17h0M567.25 1205.87h0M569.35 1218.44h0M571.44 1233.25h0M573.54 1260.34h0M575.64 1222.07h0M577.73 1280.32h0M579.83 1231.43h0M581.92 1230.03h0M584.02 1269.56h0M586.12 1256.57h0M588.21 1198.6h0M590.31 1194.69h0M592.41 1164.8h0M594.5 1184.92h0M596.6 1203.49h0M598.69 1210.48h0M600.79 1268.45h0M602.89 1297.08h0M604.98 1256.99h0M607.08 1246.8h0M609.18 1217.88h0M611.27 1155.58h0M613.37 1198.88h0M615.46 1224.86h0M617.56 1236.6h0M619.66 1238.41h0M621.75 1273.75h0M623.85 1271.24h0M625.95 1269.14h0M628.04 1268.17h0M630.14 1195.11h0M632.23 1233.25h0M634.33 1211.46h0M636.43 1189.94h0M638.52 1244.98h0M640.62 1258.67h0M642.71 1254.76h0M644.81 1259.37h0M646.91 1279.9h0M649 1232.41h0M651.1 1273.34h0M653.2 1220.26h0M655.29 1182.96h0M657.39 1169.55h0M659.48 1149.99h0M661.58 1176.95h0M663.68 1184.92h0M665.77 1190.92h0M667.87 1184.92h0M669.97 1262.86h0M672.06 1216.06h0M674.16 1249.59h0M676.25 1224.45h0M678.35 1223.47h0M680.45 1161.17h0M682.54 1229.33h0M686.19 1218.86h0M688.98 1224.45h0M690.38 1283.81h0M692.48 1254.76h0M695.27 1252.8h0M696.67 1232.83h0M698.06 1222.35h0M700.16 1231.43h0M701.56 1221.23h0M705.05 1166.48h0M705.05 1220.67h0M707.84 1220.26h0M707.84 1247.49h0M709.94 1247.21h0M711.33 1259.79h0M714.13 1247.21h0M715.52 1227.66h0M717.62 1290.8h0M719.71 1205.87h0M722.51 1205.31h0M723.91 1214.67h0M726 1196.93h0M728.1 1204.19h0M729.49 1182.54h0M732.29 1185.33h0M733.68 1206.29h0M736.48 1255.18h0M737.87 1204.47h0M740.67 1246.38h0M743.46 1244.98h0M744.86 1231.01h0M746.95 1198.32h0M749.05 1183.52h0M751.14 1176.95h0M753.24 1185.33h0M755.33 1192.74h0M757.43 1235.62h0M760.22 1234.22h0M762.32 1237.02h0M763.72 1274.73h0M765.81 1239.11h0M767.91 1283.53h0M770 1265.65h0M772.52 1251.4h0M774.19 1203.91h0M776.29 1190.92h0M778.38 1181.56h0M780.48 1213.97h0M782.57 1231.01h0M785.09 1240.51h0M786.76 1215.37h0M788.86 1210.48h0M790.95 1219.84h0M793.33 1142.03h0M795.42 1173.46h0M797.24 1196.93h0M799.33 1174.16h0M801.43 1210.48h0M803.53 1234.92h0M806.1 1234.92h0M806.1 1292.89h0M808.19 1248.89h0M810.29 1233.53h0M812.38 1224.86h0M814.06 1237.02h0M816.57 1200.7h0M818.67 1158.79h0M820.76 1193.72h0M822.86 1141.61h0M824.25 1210.48h0M827.05 1201.68h0M828.44 1213.69h0M831.24 1262.58h0M833.33 1239.39h0M835.43 1249.59h0M837.52 1288h0M839.62 1224.86h0M841.71 1164.8h0M843.81 1173.46h0M845.91 1126.67h0M847.3 1205.87h0M850.1 1206.99h0M852.19 1226.54h0M854.29 1266.35h0M857.78 1273.34h0M860.57 1236.6h0M862.67 1169.55h0M864.76 1243.02h0M866.86 1222.07h0M868.95 1237.44h0M871.05 1230.73h0M873.14 1222.07h0M875.24 1223.75h0M877.33 1263.98h0M879.43 1257.27h0M881.52 1237.72h0M883.62 1235.62h0M885.72 1182.54h0M887.81 1188.13h0M889.91 1167.18h0M892 1205.59h0M894.1 1217.04h0M896.19 1252.38h0M898.29 1263.56h0M900.38 1274.31h0M902.48 1230.73h0M904.57 1247.49h0M906.67 1180.17h0M908.76 1168.15h0M910.86 1133.65h0M912.95 1154.6h0M915.05 1200.7h0M917.14 1212.57h0M919.24 1223.47h0M921.33 1277.94h0M923.43 1224.45h0M925.53 1250.01h0M927.62 1203.91h0M928.32 1185.33h0M931.96 1166.53h0M934.06 1174.92h0M936.16 1167.93h0M937.56 1196.59h0M939.65 1200.09h0M941.75 1233.64h0M943.85 1235.74h0M946.65 1253.92h0M948.74 1246.93h0M950.84 1230.85h0M952.94 1229.45h0M955.03 1201.21h0M957.13 1165.13h0M959.23 1139.96h0M961.33 1174.22h0M963.42 1178.41h0M965.52 1212.67h0M967.62 1238.54h0M969.72 1232.25h0M971.81 1192.4h0M973.91 1218.96h0M976.01 1194.49h0M978.11 1213.37h0M980.2 1142.06h0M982.02 1181.91h0M985.1 1181.91h0M986.49 1259.51h0M988.59 1245.95h0" stroke="#231F20" stroke-width="8" stroke-linecap="round" fill="none"/>
<text x="613.1" y="1367" font-size="39.3" text-anchor="start" font-weight="bold" fill="#5A9ECB">double-exponential</text>
<text transform="translate(0.3 55.8) scale(0.88 1)" font-size="56.5" font-weight="bold">a</text>
<text x="1076.2" y="63.6" font-size="56" text-anchor="start" font-weight="bold" fill="#000">b</text>
<text x="1205.5" y="60.75" font-size="39.3" text-anchor="start" font-weight="bold" fill="#5A7FBA">IF:</text>
<text x="1299.5" y="62.4" font-size="39.2">R<tspan font-size="32" dy="6.3"><tspan font-family="NanumGothic, Liberation Sans, sans-serif" font-size="0.92em">1</tspan></tspan></text>
<text x="1356" y="62.4" font-size="39.2" text-anchor="start" font-weight="normal" fill="#000">+</text>
<text x="1390.8" y="62.4" font-size="39.2" text-anchor="start" font-weight="normal" fill="#000">L</text>
<path d="M1430.2 48.3H1523M1432.2 52.9H1525" stroke="#000" stroke-width="2.6" fill="none"/>
<polygon points="1499,49.6 1495.5,38.9 1525.5,48.7 1525.5,49.6" fill="#231F20"/>
<polygon points="1455.2,51.6 1458.7,62.3 1429.7,52.5 1429.7,51.6" fill="#231F20"/>
<text x="1458.5" y="31.8" font-size="39.2" fill="#000" font-weight="normal"><tspan font-style="italic">k</tspan><tspan font-size="32" dy="6.5">+</tspan></text>
<text x="1464.3" y="90.6" font-size="39.2" fill="#000" font-weight="normal"><tspan font-style="italic">k</tspan><tspan font-size="32" dy="6.5">-</tspan></text>
<text x="1554" y="62.4" font-size="39.2">R<tspan font-size="32" dy="6.3"><tspan font-family="NanumGothic, Liberation Sans, sans-serif" font-size="0.92em">1</tspan></tspan><tspan dy="-6.3">L</tspan></text>
<path d="M1641 48.2H1744.4M1643 53.3H1741.5" stroke="#000" stroke-width="2.6" fill="none"/>
<polygon points="1720.4,49.5 1716.9,38.8 1746.9,48.6 1746.9,49.5" fill="#231F20"/>
<polygon points="1666,52 1669.5,62.7 1640.5,52.9 1640.5,52" fill="#231F20"/>
<text x="1680" y="30" font-size="39.2" fill="#000" font-weight="normal"><tspan font-style="italic">k</tspan><tspan font-size="32" dy="6.5">r</tspan></text>
<text x="1680" y="95" font-size="39.2" fill="#000" font-weight="normal"><tspan font-style="italic">k</tspan><tspan font-size="32" dy="6.5">e</tspan></text>
<text x="1771" y="61.3" font-size="39.2">R<tspan font-size="32" dy="6.3">2</tspan><tspan dy="-6.3">L</tspan></text>
<text x="1196" y="181.25" font-size="39.3" text-anchor="start" font-weight="bold" fill="#E0992A">CS:</text>
<text x="1298" y="180.5" font-size="39.2">R<tspan font-size="32" dy="6.3"><tspan font-family="NanumGothic, Liberation Sans, sans-serif" font-size="0.92em">1</tspan></tspan></text>
<path d="M1366.4 168.6H1458.9M1368.4 173.4H1460.9" stroke="#000" stroke-width="2.6" fill="none"/>
<polygon points="1434.9,169.9 1431.4,159.2 1461.4,169 1461.4,169.9" fill="#231F20"/>
<polygon points="1391.4,172.1 1394.9,182.8 1365.9,173 1365.9,172.1" fill="#231F20"/>
<text x="1394" y="148.9" font-size="39.2" fill="#000" font-weight="normal"><tspan font-style="italic">k</tspan><tspan font-size="32" dy="6.5">e</tspan></text>
<text x="1397" y="216.5" font-size="39.2" fill="#000" font-weight="normal"><tspan font-style="italic">k</tspan><tspan font-size="32" dy="6.5">r</tspan></text>
<text x="1501" y="182.5" font-size="39.2">R<tspan font-size="32" dy="6.3">2</tspan></text>
<text x="1557.5" y="182.5" font-size="39.2" text-anchor="start" font-weight="normal" fill="#000">+</text>
<text x="1592.5" y="182.5" font-size="39.2" text-anchor="start" font-weight="normal" fill="#000">L</text>
<path d="M1647 168.6H1739.8M1649 173.4H1741.8" stroke="#000" stroke-width="2.6" fill="none"/>
<polygon points="1715.8,169.9 1712.3,159.2 1742.3,169 1742.3,169.9" fill="#231F20"/>
<polygon points="1672,172.1 1675.5,182.8 1646.5,173 1646.5,172.1" fill="#231F20"/>
<text x="1679" y="153.75" font-size="39.2" fill="#000" font-weight="normal"><tspan font-style="italic">k</tspan><tspan font-size="32" dy="6.5">+</tspan></text>
<text x="1681.5" y="217.5" font-size="39.2" fill="#000" font-weight="normal"><tspan font-style="italic">k</tspan><tspan font-size="32" dy="6.5">-</tspan></text>
<text x="1769.5" y="182.5" font-size="39.2">R<tspan font-size="32" dy="6.3">2</tspan><tspan dy="-6.3">L</tspan></text>
<defs><clipPath id="c4"><rect x="1144.5" y="267.2" width="850.8" height="525.2"/></clipPath><clipPath id="c5"><rect x="1214.3" y="950" width="733.2" height="453"/></clipPath></defs>
<rect x="1144.5" y="267.2" width="850.8" height="525.2" fill="none" stroke="#000" stroke-width="2.3"/>
<path d="M1254.08 792.4v-9M1254.08 267.2v9M1363.76 792.4v-9M1363.76 267.2v9M1473.44 792.4v-9M1473.44 267.2v9M1583.12 792.4v-9M1583.12 267.2v9M1692.8 792.4v-9M1692.8 267.2v9M1802.48 792.4v-9M1802.48 267.2v9M1912.16 792.4v-9M1912.16 267.2v9" stroke="#000" stroke-width="2" fill="none"/>
<path d="M1171.82 792.4v-5M1171.82 267.2v5M1199.24 792.4v-5M1199.24 267.2v5M1226.66 792.4v-5M1226.66 267.2v5M1281.5 792.4v-5M1281.5 267.2v5M1308.92 792.4v-5M1308.92 267.2v5M1336.34 792.4v-5M1336.34 267.2v5M1391.18 792.4v-5M1391.18 267.2v5M1418.6 792.4v-5M1418.6 267.2v5M1446.02 792.4v-5M1446.02 267.2v5M1500.86 792.4v-5M1500.86 267.2v5M1528.28 792.4v-5M1528.28 267.2v5M1555.7 792.4v-5M1555.7 267.2v5M1610.54 792.4v-5M1610.54 267.2v5M1637.96 792.4v-5M1637.96 267.2v5M1665.38 792.4v-5M1665.38 267.2v5M1720.22 792.4v-5M1720.22 267.2v5M1747.64 792.4v-5M1747.64 267.2v5M1775.06 792.4v-5M1775.06 267.2v5M1829.9 792.4v-5M1829.9 267.2v5M1857.32 792.4v-5M1857.32 267.2v5M1884.74 792.4v-5M1884.74 267.2v5M1939.58 792.4v-5M1939.58 267.2v5M1967 792.4v-5M1967 267.2v5" stroke="#000" stroke-width="2" fill="none"/>
<path d="M1144.5 779.6h9M1995.3 779.6h-9M1144.5 651.6h9M1995.3 651.6h-9M1144.5 523.6h9M1995.3 523.6h-9M1144.5 395.6h9M1995.3 395.6h-9" stroke="#000" stroke-width="2" fill="none"/>
<path d="M1144.5 754h5M1995.3 754h-5M1144.5 728.4h5M1995.3 728.4h-5M1144.5 702.8h5M1995.3 702.8h-5M1144.5 677.2h5M1995.3 677.2h-5M1144.5 626h5M1995.3 626h-5M1144.5 600.4h5M1995.3 600.4h-5M1144.5 574.8h5M1995.3 574.8h-5M1144.5 549.2h5M1995.3 549.2h-5M1144.5 498h5M1995.3 498h-5M1144.5 472.4h5M1995.3 472.4h-5M1144.5 446.8h5M1995.3 446.8h-5M1144.5 421.2h5M1995.3 421.2h-5M1144.5 370h5M1995.3 370h-5M1144.5 344.4h5M1995.3 344.4h-5M1144.5 318.8h5M1995.3 318.8h-5M1144.5 293.2h5M1995.3 293.2h-5" stroke="#000" stroke-width="2" fill="none"/>
<text x="1131.5" y="793.6" font-size="38.8" text-anchor="end" font-weight="normal" fill="#000">0</text>
<text x="1131.5" y="665.6" font-size="38.8" text-anchor="end" font-weight="normal" fill="#000">5</text>
<text x="1131.5" y="537.6" font-size="38.8" text-anchor="end" font-weight="normal" fill="#000"><tspan font-family="NanumGothic, Liberation Sans, sans-serif" font-size="0.92em">1</tspan>0</text>
<text x="1131.5" y="409.6" font-size="38.8" text-anchor="end" font-weight="normal" fill="#000"><tspan font-family="NanumGothic, Liberation Sans, sans-serif" font-size="0.92em">1</tspan>5</text>
<text x="1131.5" y="281.6" font-size="38.8" text-anchor="end" font-weight="normal" fill="#000">20</text>
<text x="1144.4" y="832.8" font-size="38.8" text-anchor="middle" font-weight="normal" fill="#000">0</text>
<text x="1254.08" y="832.8" font-size="38.8" text-anchor="middle" font-weight="normal" fill="#000">2</text>
<text x="1363.76" y="832.8" font-size="38.8" text-anchor="middle" font-weight="normal" fill="#000">4</text>
<text x="1473.44" y="832.8" font-size="38.8" text-anchor="middle" font-weight="normal" fill="#000">6</text>
<text x="1583.12" y="832.8" font-size="38.8" text-anchor="middle" font-weight="normal" fill="#000">8</text>
<text x="1692.8" y="832.8" font-size="38.8" text-anchor="middle" font-weight="normal" fill="#000"><tspan font-family="NanumGothic, Liberation Sans, sans-serif" font-size="0.92em">1</tspan>0</text>
<text x="1802.48" y="832.8" font-size="38.8" text-anchor="middle" font-weight="normal" fill="#000"><tspan font-family="NanumGothic, Liberation Sans, sans-serif" font-size="0.92em">1</tspan>2</text>
<text x="1912.16" y="832.8" font-size="38.8" text-anchor="middle" font-weight="normal" fill="#000"><tspan font-family="NanumGothic, Liberation Sans, sans-serif" font-size="0.92em">1</tspan>4</text>
<g clip-path="url(#c4)">
<polyline points="1144.4,739.92 1145.78,739.9 1147.17,739.88 1148.55,739.86 1149.93,739.83 1151.31,739.81 1152.7,739.79 1154.08,739.77 1155.46,739.75 1156.84,739.73 1158.23,739.7 1159.61,739.68 1160.99,739.66 1162.37,739.64 1163.76,739.62 1165.14,739.61 1166.52,739.59 1167.9,739.57 1169.29,739.56 1170.67,739.54 1172.05,739.53 1173.43,739.51 1174.82,739.49 1176.2,739.48 1177.58,739.45 1178.96,739.43 1180.35,739.41 1181.73,739.38 1183.11,739.34 1184.49,739.31 1185.88,739.27 1187.26,739.21 1188.64,739.12 1190.02,739.01 1191.41,738.87 1192.79,738.71 1194.17,738.54 1195.55,738.34 1196.94,738.13 1198.32,737.9 1199.7,737.66 1201.08,737.33 1202.47,736.91 1203.85,736.42 1205.23,735.88 1206.61,735.31 1208,734.72 1209.38,734.15 1210.76,733.58 1212.14,732.98 1213.53,732.36 1214.91,731.72 1216.29,731.06 1217.67,730.39 1219.06,729.7 1220.44,729 1221.82,728.3 1223.2,727.6 1224.59,726.89 1225.97,726.19 1227.35,725.49 1228.73,724.79 1230.12,724.08 1231.5,723.36 1232.88,722.64 1234.26,721.91 1235.65,721.18 1237.03,720.45 1238.41,719.71 1239.79,718.97 1241.18,718.22 1242.56,717.48 1243.94,716.73 1245.32,715.98 1246.71,715.23 1248.09,714.48 1249.47,713.73 1250.85,712.99 1252.24,712.24 1253.62,711.5 1255,710.75 1256.38,710.01 1257.77,709.27 1259.15,708.53 1260.53,707.79 1261.91,707.04 1263.3,706.3 1264.68,705.56 1266.06,704.81 1267.44,704.07 1268.83,703.32 1270.21,702.57 1271.59,701.82 1272.97,701.07 1274.36,700.32 1275.74,699.56 1277.12,698.81 1278.5,698.05 1279.89,697.29 1281.27,696.53 1282.65,695.76 1284.03,694.98 1285.42,694.2 1286.8,693.43 1288.18,692.66 1289.56,691.9 1290.95,691.14 1292.33,690.37 1293.71,689.61 1295.09,688.85 1296.48,688.09 1297.86,687.34 1299.24,686.58 1300.62,685.82 1302.01,685.07 1303.39,684.31 1304.77,683.56 1306.15,682.81 1307.54,682.06 1308.92,681.3 1326.64,671.71 1344.36,662.12 1362.07,652.47 1379.79,642.81 1397.51,633.14 1415.23,623.47 1432.94,613.79 1450.66,604.12 1468.38,594.46 1486.1,584.8 1503.81,575.16 1521.53,565.52 1539.25,555.89 1556.97,546.26 1574.68,536.63 1592.4,527 1610.12,517.38 1627.84,507.75 1645.55,498.11 1663.27,488.48 1680.99,478.83 1698.71,469.18 1716.42,459.53 1734.14,449.87 1751.86,440.21 1769.58,430.55 1787.29,420.88 1805.01,411.22 1822.73,401.55 1840.45,391.88 1858.16,382.2 1875.88,372.53 1893.6,362.85 1911.32,353.17 1929.03,343.48 1946.75,333.8 1964.47,324.11 1982.19,314.42 1999.9,304.72" fill="none" stroke="#E0992A" stroke-width="4.5" stroke-linejoin="round"/>
<polyline points="1144.4,776.78 1145.78,776.84 1147.17,776.89 1148.55,776.95 1149.93,777 1151.31,777.06 1152.7,777.11 1154.08,777.17 1155.46,777.22 1156.84,777.28 1158.23,777.34 1159.61,777.4 1160.99,777.46 1162.37,777.52 1163.76,777.58 1165.14,777.64 1166.52,777.7 1167.9,777.76 1169.29,777.83 1170.67,777.89 1172.05,777.96 1173.43,778.02 1174.82,778.09 1176.2,778.15 1177.58,778.22 1178.96,778.28 1180.35,778.35 1181.73,778.41 1183.11,778.47 1184.49,778.53 1185.88,778.59 1187.26,778.66 1188.64,778.73 1190.02,778.81 1191.41,778.88 1192.79,778.95 1194.17,779.02 1195.55,779.07 1196.94,779.11 1198.32,779.13 1199.7,779.14 1201.08,779.13 1202.47,779.13 1203.85,779.11 1205.23,779.1 1206.61,779.08 1208,779.06 1209.38,779.04 1210.76,779.02 1212.14,779 1213.53,778.97 1214.91,778.94 1216.29,778.91 1217.67,778.88 1219.06,778.84 1220.44,778.8 1221.82,778.76 1223.2,778.72 1224.59,778.67 1225.97,778.63 1227.35,778.58 1228.73,778.54 1230.12,778.49 1231.5,778.44 1232.88,778.39 1234.26,778.34 1235.65,778.29 1237.03,778.24 1238.41,778.2 1239.79,778.15 1241.18,778.1 1242.56,778.06 1243.94,778.01 1245.32,777.97 1246.71,777.93 1248.09,777.89 1249.47,777.86 1250.85,777.82 1252.24,777.79 1253.62,777.77 1255,777.74 1256.38,777.71 1257.77,777.69 1259.15,777.66 1260.53,777.64 1261.91,777.62 1263.3,777.59 1264.68,777.57 1266.06,777.55 1267.44,777.53 1268.83,777.51 1270.21,777.48 1271.59,777.46 1272.97,777.45 1274.36,777.43 1275.74,777.41 1277.12,777.39 1278.5,777.38 1279.89,777.36 1281.27,777.35 1282.65,777.33 1284.03,777.32 1285.42,777.31 1286.8,777.3 1288.18,777.29 1289.56,777.28 1290.95,777.27 1292.33,777.26 1293.71,777.25 1295.09,777.24 1296.48,777.23 1297.86,777.22 1299.24,777.21 1300.62,777.2 1302.01,777.19 1303.39,777.18 1304.77,777.17 1306.15,777.16 1307.54,777.15 1308.92,777.15 1326.64,777.04 1344.36,776.94 1362.07,776.86 1379.79,776.78 1397.51,776.72 1415.23,776.66 1432.94,776.61 1450.66,776.57 1468.38,776.54 1486.1,776.51 1503.81,776.48 1521.53,776.45 1539.25,776.42 1556.97,776.39 1574.68,776.36 1592.4,776.34 1610.12,776.31 1627.84,776.29 1645.55,776.26 1663.27,776.24 1680.99,776.22 1698.71,776.2 1716.42,776.18 1734.14,776.16 1751.86,776.14 1769.58,776.13 1787.29,776.11 1805.01,776.1 1822.73,776.08 1840.45,776.07 1858.16,776.06 1875.88,776.05 1893.6,776.04 1911.32,776.03 1929.03,776.03 1946.75,776.02 1964.47,776.02 1982.19,776.02 1999.9,776.02" fill="none" stroke="#E0992A" stroke-width="4.5" stroke-linejoin="round"/>
<polyline points="1144.4,717.9 1145.78,718.6 1147.17,719.28 1148.55,719.94 1149.93,720.58 1151.31,721.19 1152.7,721.77 1154.08,722.33 1155.46,722.87 1156.84,723.39 1158.23,723.89 1159.61,724.38 1160.99,724.86 1162.37,725.35 1163.76,725.82 1165.14,726.29 1166.52,726.75 1167.9,727.2 1169.29,727.63 1170.67,728.06 1172.05,728.47 1173.43,728.87 1174.82,729.26 1176.2,729.64 1177.58,730.02 1178.96,730.39 1180.35,730.75 1181.73,731.09 1183.11,731.43 1184.49,731.75 1185.88,732.06 1187.26,732.37 1188.64,732.68 1190.02,732.97 1191.41,733.22 1192.79,733.41 1194.17,733.57 1195.55,733.73 1196.94,733.86 1198.32,733.94 1199.7,733.95 1201.08,733.89 1202.47,733.77 1203.85,733.62 1205.23,733.45 1206.61,733.2 1208,732.89 1209.38,732.56 1210.76,732.24 1212.14,731.91 1213.53,731.57 1214.91,731.21 1216.29,730.85 1217.67,730.48 1219.06,730.1 1220.44,729.72 1221.82,729.32 1223.2,728.92 1224.59,728.51 1225.97,728.1 1227.35,727.68 1228.73,727.25 1230.12,726.82 1231.5,726.37 1232.88,725.93 1234.26,725.47 1235.65,725.01 1237.03,724.54 1238.41,724.06 1239.79,723.58 1241.18,723.09 1242.56,722.59 1243.94,722.09 1245.32,721.57 1246.71,721.05 1248.09,720.53 1249.47,719.99 1250.85,719.45 1252.24,718.9 1253.62,718.35 1255,717.78 1256.38,717.19 1257.77,716.58 1259.15,715.95 1260.53,715.31 1261.91,714.65 1263.3,713.98 1264.68,713.3 1266.06,712.61 1267.44,711.92 1268.83,711.23 1270.21,710.53 1271.59,709.84 1272.97,709.15 1274.36,708.46 1275.74,707.78 1277.12,707.12 1278.5,706.47 1279.89,705.83 1281.27,705.21 1282.65,704.61 1284.03,704.05 1285.42,703.48 1286.8,702.88 1288.18,702.25 1289.56,701.59 1290.95,700.93 1292.33,700.26 1293.71,699.58 1295.09,698.89 1296.48,698.2 1297.86,697.49 1299.24,696.77 1300.62,696.05 1302.01,695.32 1303.39,694.58 1304.77,693.84 1306.15,693.09 1307.54,692.33 1308.92,691.57 1326.64,681.44 1344.36,671.19 1362.07,661.32 1379.79,651.51 1397.51,641.7 1415.23,631.86 1432.94,621.98 1450.66,612.02 1468.38,601.96 1486.1,591.77 1503.81,581.48 1521.53,571.09 1539.25,560.61 1556.97,550.07 1574.68,539.47 1592.4,528.83 1610.12,518.15 1627.84,507.46 1645.55,496.76 1663.27,486.07 1680.99,475.4 1698.71,464.76 1716.42,454.13 1734.14,443.48 1751.86,432.84 1769.58,422.18 1787.29,411.52 1805.01,400.85 1822.73,390.17 1840.45,379.49 1858.16,368.79 1875.88,358.09 1893.6,347.39 1911.32,336.67 1929.03,325.94 1946.75,315.21 1964.47,304.47 1982.19,293.72 1999.9,282.96" fill="none" stroke="#5A7FBA" stroke-width="4" stroke-linejoin="round"/>
<polyline points="1144.4,763.73 1145.78,764.04 1147.17,764.36 1148.55,764.67 1149.93,764.98 1151.31,765.3 1152.7,765.61 1154.08,765.92 1155.46,766.23 1156.84,766.54 1158.23,766.85 1159.61,767.16 1160.99,767.47 1162.37,767.77 1163.76,768.07 1165.14,768.37 1166.52,768.66 1167.9,768.96 1169.29,769.27 1170.67,769.59 1172.05,769.93 1173.43,770.29 1174.82,770.67 1176.2,771.06 1177.58,771.47 1178.96,771.88 1180.35,772.3 1181.73,772.7 1183.11,773.1 1184.49,773.49 1185.88,773.85 1187.26,774.25 1188.64,774.67 1190.02,775.09 1191.41,775.49 1192.79,775.84 1194.17,776.13 1195.55,776.33 1196.94,776.42 1198.32,776.47 1199.7,776.47 1201.08,776.38 1202.47,776.2 1203.85,775.96 1205.23,775.66 1206.61,775.34 1208,775.01 1209.38,774.69 1210.76,774.39 1212.14,774.04 1213.53,773.67 1214.91,773.28 1216.29,772.87 1217.67,772.44 1219.06,772.01 1220.44,771.58 1221.82,771.16 1223.2,770.75 1224.59,770.35 1225.97,769.97 1227.35,769.62 1228.73,769.28 1230.12,768.93 1231.5,768.59 1232.88,768.25 1234.26,767.92 1235.65,767.59 1237.03,767.26 1238.41,766.94 1239.79,766.62 1241.18,766.31 1242.56,766 1243.94,765.7 1245.32,765.41 1246.71,765.12 1248.09,764.84 1249.47,764.57 1250.85,764.31 1252.24,764.05 1253.62,763.81 1255,763.57 1256.38,763.34 1257.77,763.11 1259.15,762.89 1260.53,762.67 1261.91,762.45 1263.3,762.24 1264.68,762.04 1266.06,761.83 1267.44,761.64 1268.83,761.44 1270.21,761.26 1271.59,761.07 1272.97,760.89 1274.36,760.72 1275.74,760.55 1277.12,760.38 1278.5,760.22 1279.89,760.06 1281.27,759.91 1282.65,759.77 1284.03,759.63 1285.42,759.5 1286.8,759.39 1288.18,759.29 1289.56,759.18 1290.95,759.08 1292.33,758.98 1293.71,758.88 1295.09,758.77 1296.48,758.68 1297.86,758.58 1299.24,758.48 1300.62,758.38 1302.01,758.29 1303.39,758.19 1304.77,758.1 1306.15,758.01 1307.54,757.91 1308.92,757.82 1326.64,756.78 1344.36,755.98 1362.07,755.43 1379.79,754.94 1397.51,754.51 1415.23,754.12 1432.94,753.8 1450.66,753.53 1468.38,753.33 1486.1,753.19 1503.81,753.07 1521.53,752.96 1539.25,752.86 1556.97,752.77 1574.68,752.69 1592.4,752.62 1610.12,752.55 1627.84,752.5 1645.55,752.45 1663.27,752.4 1680.99,752.36 1698.71,752.32 1716.42,752.29 1734.14,752.26 1751.86,752.22 1769.58,752.19 1787.29,752.16 1805.01,752.13 1822.73,752.1 1840.45,752.08 1858.16,752.05 1875.88,752.03 1893.6,752.01 1911.32,751.99 1929.03,751.98 1946.75,751.97 1964.47,751.96 1982.19,751.95 1999.9,751.95" fill="none" stroke="#5A7FBA" stroke-width="4" stroke-linejoin="round"/>
<polyline points="1144.4,734.29 1145.78,734.29 1147.17,734.29 1148.55,734.29 1149.93,734.29 1151.31,734.29 1152.7,734.29 1154.08,734.29 1155.46,734.29 1156.84,734.29 1158.23,734.29 1159.61,734.29 1160.99,734.29 1162.37,734.29 1163.76,734.29 1165.14,734.29 1166.52,734.29 1167.9,734.29 1169.29,734.29 1170.67,734.29 1172.05,734.29 1173.43,734.29 1174.82,734.29 1176.2,734.29 1177.58,734.29 1178.96,734.29 1180.35,734.28 1181.73,734.27 1183.11,734.25 1184.49,734.24 1185.88,734.22 1187.26,734.19 1188.64,734.16 1190.02,734.13 1191.41,734.1 1192.79,734.06 1194.17,734.02 1195.55,733.93 1196.94,733.79 1198.32,733.63 1199.7,733.46 1201.08,733.26 1202.47,733.02 1203.85,732.76 1205.23,732.47 1206.61,732.17 1208,731.85 1209.38,731.54 1210.76,731.21 1212.14,730.87 1213.53,730.52 1214.91,730.15 1216.29,729.77 1217.67,729.37 1219.06,728.97 1220.44,728.56 1221.82,728.13 1223.2,727.7 1224.59,727.27 1225.97,726.83 1227.35,726.39 1228.73,725.93 1230.12,725.47 1231.5,725.01 1232.88,724.53 1234.26,724.05 1235.65,723.56 1237.03,723.06 1238.41,722.55 1239.79,722.04 1241.18,721.52 1242.56,720.99 1243.94,720.46 1245.32,719.92 1246.71,719.38 1248.09,718.82 1249.47,718.27 1250.85,717.7 1252.24,717.13 1253.62,716.56 1255,715.97 1256.38,715.35 1257.77,714.69 1259.15,714.01 1260.53,713.3 1261.91,712.57 1263.3,711.83 1264.68,711.09 1266.06,710.34 1267.44,709.59 1268.83,708.85 1270.21,708.12 1271.59,707.41 1272.97,706.73 1274.36,706.07 1275.74,705.44 1277.12,704.86 1278.5,704.32 1279.89,703.82 1281.27,703.38 1282.65,703.01 1284.03,702.72 1285.42,702.43 1286.8,702.08 1288.18,701.67 1289.56,701.23 1290.95,700.76 1292.33,700.27 1293.71,699.75 1295.09,699.2 1296.48,698.64 1297.86,698.05 1299.24,697.44 1300.62,696.81 1302.01,696.16 1303.39,695.49 1304.77,694.8 1306.15,694.1 1307.54,693.38 1308.92,692.65 1326.64,682.35 1344.36,671.68 1362.07,661.97 1379.79,652.31 1397.51,642.58 1415.23,632.79 1432.94,622.93 1450.66,612.98 1468.38,602.95 1486.1,592.82 1503.81,582.58 1521.53,572.24 1539.25,561.82 1556.97,551.32 1574.68,540.77 1592.4,530.16 1610.12,519.53 1627.84,508.87 1645.55,498.21 1663.27,487.55 1680.99,476.91 1698.71,466.31 1716.42,455.7 1734.14,445.09 1751.86,434.46 1769.58,423.83 1787.29,413.19 1805.01,402.54 1822.73,391.88 1840.45,381.21 1858.16,370.54 1875.88,359.85 1893.6,349.15 1911.32,338.44 1929.03,327.73 1946.75,317 1964.47,306.26 1982.19,295.51 1999.9,284.75" fill="none" stroke="#E0992A" stroke-width="4.5" stroke-linejoin="round" stroke-dasharray="9 9"/>
<polyline points="1144.4,757.58 1145.78,758.2 1147.17,758.81 1148.55,759.41 1149.93,760.01 1151.31,760.6 1152.7,761.18 1154.08,761.76 1155.46,762.33 1156.84,762.89 1158.23,763.45 1159.61,764 1160.99,764.55 1162.37,765.09 1163.76,765.61 1165.14,766.13 1166.52,766.65 1167.9,767.15 1169.29,767.66 1170.67,768.17 1172.05,768.68 1173.43,769.2 1174.82,769.74 1176.2,770.29 1177.58,770.84 1178.96,771.38 1180.35,771.91 1181.73,772.4 1183.11,772.87 1184.49,773.3 1185.88,773.68 1187.26,774.05 1188.64,774.44 1190.02,774.83 1191.41,775.2 1192.79,775.54 1194.17,775.84 1195.55,776.09 1196.94,776.27 1198.32,776.38 1199.7,776.39 1201.08,776.3 1202.47,776.11 1203.85,775.85 1205.23,775.54 1206.61,775.21 1208,774.87 1209.38,774.54 1210.76,774.23 1212.14,773.89 1213.53,773.53 1214.91,773.15 1216.29,772.75 1217.67,772.35 1219.06,771.93 1220.44,771.52 1221.82,771.12 1223.2,770.72 1224.59,770.33 1225.97,769.97 1227.35,769.62 1228.73,769.28 1230.12,768.94 1231.5,768.61 1232.88,768.27 1234.26,767.94 1235.65,767.62 1237.03,767.29 1238.41,766.97 1239.79,766.65 1241.18,766.34 1242.56,766.04 1243.94,765.74 1245.32,765.44 1246.71,765.15 1248.09,764.87 1249.47,764.59 1250.85,764.33 1252.24,764.06 1253.62,763.81 1255,763.56 1256.38,763.32 1257.77,763.08 1259.15,762.84 1260.53,762.61 1261.91,762.38 1263.3,762.15 1264.68,761.93 1266.06,761.71 1267.44,761.5 1268.83,761.29 1270.21,761.08 1271.59,760.88 1272.97,760.69 1274.36,760.5 1275.74,760.32 1277.12,760.15 1278.5,759.98 1279.89,759.81 1281.27,759.66 1282.65,759.51 1284.03,759.37 1285.42,759.25 1286.8,759.13 1288.18,759.03 1289.56,758.93 1290.95,758.82 1292.33,758.72 1293.71,758.62 1295.09,758.52 1296.48,758.42 1297.86,758.32 1299.24,758.22 1300.62,758.13 1302.01,758.03 1303.39,757.94 1304.77,757.85 1306.15,757.75 1307.54,757.66 1308.92,757.57 1326.64,756.53 1344.36,755.73 1362.07,755.16 1379.79,754.65 1397.51,754.19 1415.23,753.79 1432.94,753.44 1450.66,753.16 1468.38,752.95 1486.1,752.8 1503.81,752.68 1521.53,752.57 1539.25,752.47 1556.97,752.38 1574.68,752.3 1592.4,752.23 1610.12,752.17 1627.84,752.11 1645.55,752.06 1663.27,752.02 1680.99,751.98 1698.71,751.94 1716.42,751.91 1734.14,751.87 1751.86,751.84 1769.58,751.81 1787.29,751.78 1805.01,751.75 1822.73,751.72 1840.45,751.69 1858.16,751.67 1875.88,751.65 1893.6,751.63 1911.32,751.61 1929.03,751.59 1946.75,751.58 1964.47,751.57 1982.19,751.57 1999.9,751.57" fill="none" stroke="#E0992A" stroke-width="4.5" stroke-linejoin="round" stroke-dasharray="9 9"/>
</g>
<path d="M1171.82 706.64V739.41M1163.32 706.64h17M1163.32 739.41h17M1185.53 725.33V739.15M1177.03 725.33h17M1177.03 739.15h17M1199.24 729.94V741.2M1190.74 729.94h17M1190.74 741.2h17M1226.66 721.49V734.54M1218.16 721.49h17M1218.16 734.54h17M1254.08 708.94V724.3M1245.58 708.94h17M1245.58 724.3h17M1281.5 697.42V709.71M1273 697.42h17M1273 709.71h17M1350.05 640.59V692.05M1341.55 640.59h17M1341.55 692.05h17M1418.6 564.82V647.5M1410.1 564.82h17M1410.1 647.5h17M1692.8 430.67V488.53M1684.3 430.67h17M1684.3 488.53h17M1967 289.62V339.28M1958.5 289.62h17M1958.5 339.28h17M1171.82 759.38V770.13M1163.32 759.38h17M1163.32 770.13h17M1185.53 760.4V778.58M1177.03 760.4h17M1177.03 778.58h17M1199.24 768.85V773.58M1190.74 768.85h17M1190.74 773.58h17M1226.66 763.86V776.32M1218.16 763.86h17M1218.16 776.32h17M1254.08 759.63V776.78M1245.58 759.63h17M1245.58 776.78h17M1281.5 759.38V778.24M1273 759.38h17M1273 778.24h17" stroke="#000" stroke-width="2.7" fill="none"/>
<path d="M1171.82 723.02h0M1185.53 732.24h0M1199.24 735.57h0M1226.66 727.89h0M1254.08 716.62h0M1281.5 703.57h0M1350.05 666.45h0M1418.6 606.29h0M1692.8 459.86h0M1967 314.96h0M1171.82 764.8h0M1185.53 769.49h0M1199.24 771.15h0M1226.66 770.05h0M1254.08 768.21h0M1281.5 768.92h0" stroke="#000" stroke-width="16.4" stroke-linecap="round" fill="none"/>
<text x="1172.5" y="319" font-size="39.3" text-anchor="start" font-weight="bold" fill="#E0992A">conformational selection (CS)</text>
<line x1="1174.5" y1="355.6" x2="1202.7" y2="355.6" stroke="#E0992A" stroke-width="5"/>
<line x1="1230" y1="355.6" x2="1248" y2="355.6" stroke="#E0992A" stroke-width="5"/>
<text x="1258.5" y="370" font-size="39.3" text-anchor="start" font-weight="bold" fill="#E0992A">without constraints</text>
<line x1="1174.5" y1="405.5" x2="1244.2" y2="405.5" stroke="#E0992A" stroke-width="5.2"/>
<text x="1258.5" y="416.2" font-size="39.3" font-weight="bold" fill="#E0992A">with constraints <tspan font-style="italic">k</tspan><tspan font-size="32" dy="6.5">r</tspan><tspan dy="-6.5"> &gt; 9</tspan><tspan font-style="italic">k</tspan><tspan font-size="32" dy="6.5">e</tspan></text>
<line x1="1611" y1="556" x2="1667" y2="556" stroke="#5A7FBA" stroke-width="4.6"/>
<text x="1683.5" y="567" font-size="39.3" text-anchor="start" font-weight="bold" fill="#5A7FBA">induced fit (IF)</text>
<text x="1620.5" y="623" font-size="39.3" font-weight="bold" fill="#5A7FBA"><tspan font-style="italic">k</tspan><tspan font-size="32" dy="6.5">r</tspan><tspan dy="-6.5"> = <tspan font-family="NanumGothic, Liberation Sans, sans-serif" font-weight="800" font-size="0.905em">1</tspan>.<tspan font-family="NanumGothic, Liberation Sans, sans-serif" font-weight="800" font-size="0.905em">1</tspan> ± 0.5 s</tspan><tspan font-size="32" dy="-18.8">-<tspan font-family="NanumGothic, Liberation Sans, sans-serif" font-weight="800" font-size="0.905em">1</tspan></tspan></text>
<text x="1619.5" y="674.9" font-size="39.3" font-weight="bold" fill="#5A7FBA"><tspan font-style="italic">k</tspan><tspan font-size="32" dy="6.5">e</tspan><tspan dy="-6.5"> = 0.0<tspan font-family="NanumGothic, Liberation Sans, sans-serif" font-weight="800" font-size="0.905em">1</tspan> ± 0.0<tspan font-family="NanumGothic, Liberation Sans, sans-serif" font-weight="800" font-size="0.905em">1</tspan> s</tspan><tspan font-size="32" dy="-18.8">-<tspan font-family="NanumGothic, Liberation Sans, sans-serif" font-weight="800" font-size="0.905em">1</tspan></tspan></text>
<text x="1909" y="662.6" font-size="30.5" fill="#5A7FBA"><tspan font-family="NanumGothic, Liberation Sans, sans-serif" font-size="0.92em">1</tspan></text>
<text x="1625" y="726.2" font-size="39.3" font-weight="bold" fill="#5A7FBA"><tspan font-style="italic">k</tspan><tspan font-size="32" dy="6.5">-</tspan><tspan dy="-6.5"> = 0.6 ± 0.4 s</tspan><tspan font-size="32" dy="-18.8">-<tspan font-family="NanumGothic, Liberation Sans, sans-serif" font-weight="800" font-size="0.905em">1</tspan></tspan></text>
<text transform="translate(1078.2 518.5) rotate(-90)" font-size="39.2" text-anchor="middle">rates <tspan font-style="italic">k</tspan><tspan font-size="32" dy="6.3"><tspan font-family="NanumGothic, Liberation Sans, sans-serif" font-size="0.92em">1</tspan></tspan><tspan dy="-6.3"> and </tspan><tspan font-style="italic">k</tspan><tspan font-size="32" dy="6.3">2</tspan><tspan dy="-6.3"> [s</tspan><tspan font-size="32" dy="-16">-<tspan font-family="NanumGothic, Liberation Sans, sans-serif" font-size="0.92em">1</tspan></tspan><tspan dy="16">]</tspan></text>
<text x="1482" y="880.75" font-size="39.2">[L]<tspan font-size="24" dy="9.5">0</tspan><tspan dy="-9.5"> [</tspan>μM]</text>
<rect x="1214.3" y="950" width="733.2" height="453" fill="none" stroke="#000" stroke-width="2.3"/>
<path d="M1278.04 1403v-9M1278.04 950v9M1437.39 1403v-9M1437.39 950v9M1596.74 1403v-9M1596.74 950v9M1756.09 1403v-9M1756.09 950v9M1915.44 1403v-9M1915.44 950v9" stroke="#000" stroke-width="2" fill="none"/>
<path d="M1246.17 1403v-5M1246.17 950v5M1309.91 1403v-5M1309.91 950v5M1341.78 1403v-5M1341.78 950v5M1373.65 1403v-5M1373.65 950v5M1405.52 1403v-5M1405.52 950v5M1469.26 1403v-5M1469.26 950v5M1501.13 1403v-5M1501.13 950v5M1533 1403v-5M1533 950v5M1564.87 1403v-5M1564.87 950v5M1628.61 1403v-5M1628.61 950v5M1660.48 1403v-5M1660.48 950v5M1692.35 1403v-5M1692.35 950v5M1724.22 1403v-5M1724.22 950v5M1787.96 1403v-5M1787.96 950v5M1819.83 1403v-5M1819.83 950v5M1851.7 1403v-5M1851.7 950v5M1883.57 1403v-5M1883.57 950v5" stroke="#000" stroke-width="2" fill="none"/>
<path d="M1214.3 1389.5h9M1947.5 1389.5h-9M1214.3 1256.5h9M1947.5 1256.5h-9M1214.3 1123.5h9M1947.5 1123.5h-9M1214.3 990.5h9M1947.5 990.5h-9" stroke="#000" stroke-width="2" fill="none"/>
<path d="M1214.3 1376.2h5M1947.5 1376.2h-5M1214.3 1362.9h5M1947.5 1362.9h-5M1214.3 1349.6h5M1947.5 1349.6h-5M1214.3 1336.3h5M1947.5 1336.3h-5M1214.3 1323h5M1947.5 1323h-5M1214.3 1309.7h5M1947.5 1309.7h-5M1214.3 1296.4h5M1947.5 1296.4h-5M1214.3 1283.1h5M1947.5 1283.1h-5M1214.3 1269.8h5M1947.5 1269.8h-5M1214.3 1243.2h5M1947.5 1243.2h-5M1214.3 1229.9h5M1947.5 1229.9h-5M1214.3 1216.6h5M1947.5 1216.6h-5M1214.3 1203.3h5M1947.5 1203.3h-5M1214.3 1190h5M1947.5 1190h-5M1214.3 1176.7h5M1947.5 1176.7h-5M1214.3 1163.4h5M1947.5 1163.4h-5M1214.3 1150.1h5M1947.5 1150.1h-5M1214.3 1136.8h5M1947.5 1136.8h-5M1214.3 1110.2h5M1947.5 1110.2h-5M1214.3 1096.9h5M1947.5 1096.9h-5M1214.3 1083.6h5M1947.5 1083.6h-5M1214.3 1070.3h5M1947.5 1070.3h-5M1214.3 1057h5M1947.5 1057h-5M1214.3 1043.7h5M1947.5 1043.7h-5M1214.3 1030.4h5M1947.5 1030.4h-5M1214.3 1017.1h5M1947.5 1017.1h-5M1214.3 1003.8h5M1947.5 1003.8h-5M1214.3 977.2h5M1947.5 977.2h-5M1214.3 963.9h5M1947.5 963.9h-5" stroke="#000" stroke-width="2" fill="none"/>
<text x="1201.5" y="1403.5" font-size="38.8" text-anchor="end" font-weight="normal" fill="#000">0</text>
<text x="1201.5" y="1270.5" font-size="38.8" text-anchor="end" font-weight="normal" fill="#000"><tspan font-family="NanumGothic, Liberation Sans, sans-serif" font-size="0.92em">1</tspan></text>
<text x="1201.5" y="1137.5" font-size="38.8" text-anchor="end" font-weight="normal" fill="#000">2</text>
<text x="1201.5" y="1004.5" font-size="38.8" text-anchor="end" font-weight="normal" fill="#000">3</text>
<text x="1278.04" y="1441.5" font-size="38.8" text-anchor="middle" font-weight="normal" fill="#000">0.5</text>
<text x="1437.39" y="1441.5" font-size="38.8" text-anchor="middle" font-weight="normal" fill="#000"><tspan font-family="NanumGothic, Liberation Sans, sans-serif" font-size="0.92em">1</tspan>.0</text>
<text x="1596.74" y="1441.5" font-size="38.8" text-anchor="middle" font-weight="normal" fill="#000"><tspan font-family="NanumGothic, Liberation Sans, sans-serif" font-size="0.92em">1</tspan>.5</text>
<text x="1756.09" y="1441.5" font-size="38.8" text-anchor="middle" font-weight="normal" fill="#000">2.0</text>
<text x="1915.44" y="1441.5" font-size="38.8" text-anchor="middle" font-weight="normal" fill="#000">2.5</text>
<g clip-path="url(#c5)">
<polyline points="1214.3,1182.02 1217.98,1181.97 1221.67,1181.92 1225.35,1181.88 1229.03,1181.83 1232.72,1181.79 1236.4,1181.75 1240.08,1181.71 1243.77,1181.67 1247.45,1181.63 1251.13,1181.59 1254.82,1181.56 1258.5,1181.52 1262.19,1181.49 1265.87,1181.45 1269.55,1181.41 1273.24,1181.38 1276.92,1181.34 1280.6,1181.3 1284.29,1181.26 1287.97,1181.22 1291.65,1181.18 1295.34,1181.14 1299.02,1181.1 1302.7,1181.05 1306.39,1181 1310.07,1180.95 1313.75,1180.9 1317.44,1180.84 1321.12,1180.79 1324.8,1180.73 1328.49,1180.66 1332.17,1180.59 1335.85,1180.52 1339.54,1180.45 1343.22,1180.37 1346.9,1180.29 1350.59,1180.2 1354.27,1180.11 1357.96,1180.02 1361.64,1179.9 1365.32,1179.76 1369.01,1179.59 1372.69,1179.38 1376.37,1179.15 1380.06,1178.89 1383.74,1178.61 1387.42,1178.3 1391.11,1177.97 1394.79,1177.61 1398.47,1177.23 1402.16,1176.83 1405.84,1176.41 1409.52,1175.96 1413.21,1175.5 1416.89,1175.02 1420.57,1174.52 1424.26,1174.01 1427.94,1173.47 1431.62,1172.93 1435.31,1172.37 1438.99,1171.78 1442.67,1171.1 1446.36,1170.29 1450.04,1169.39 1453.73,1168.4 1457.41,1167.32 1461.09,1166.17 1464.78,1164.95 1468.46,1163.68 1472.14,1162.37 1475.83,1161.02 1479.51,1159.65 1483.19,1158.27 1486.88,1156.87 1490.56,1155.49 1494.24,1154.11 1497.93,1152.77 1501.61,1151.42 1505.29,1150.04 1508.98,1148.63 1512.66,1147.19 1516.34,1145.73 1520.03,1144.24 1523.71,1142.73 1527.39,1141.19 1531.08,1139.64 1534.76,1138.07 1538.45,1136.48 1542.13,1134.87 1545.81,1133.25 1549.5,1131.62 1553.18,1129.97 1556.86,1128.32 1560.55,1126.66 1564.23,1124.99 1567.91,1123.31 1571.6,1121.63 1575.28,1119.95 1578.96,1118.27 1582.65,1116.59 1586.33,1114.92 1590.01,1113.24 1593.7,1111.57 1597.38,1109.91 1601.06,1108.25 1604.75,1106.58 1608.43,1104.9 1612.11,1103.21 1615.8,1101.52 1619.48,1099.82 1623.16,1098.11 1626.85,1096.4 1630.53,1094.68 1634.22,1092.95 1637.9,1091.23 1641.58,1089.49 1645.27,1087.75 1648.95,1086.01 1652.63,1084.26 1656.32,1082.51 1660,1080.75 1663.68,1078.99 1667.37,1077.23 1671.05,1075.46 1674.73,1073.69 1678.42,1071.92 1682.1,1070.14 1685.78,1068.37 1689.47,1066.59 1693.15,1064.81 1696.83,1063.03 1700.52,1061.25 1704.2,1059.46 1707.88,1057.68 1711.57,1055.89 1715.25,1054.11 1718.94,1052.33 1722.62,1050.54 1726.3,1048.76 1729.99,1046.98 1733.67,1045.19 1737.35,1043.41 1741.04,1041.64 1744.72,1039.86 1748.4,1038.08 1752.09,1036.31 1755.77,1034.54 1759.45,1032.78 1763.14,1031.01 1766.82,1029.24 1770.5,1027.47 1774.19,1025.71 1777.87,1023.94 1781.55,1022.17 1785.24,1020.41 1788.92,1018.64 1792.6,1016.87 1796.29,1015.1 1799.97,1013.33 1803.65,1011.56 1807.34,1009.79 1811.02,1008.02 1814.71,1006.25 1818.39,1004.48 1822.07,1002.71 1825.76,1000.93 1829.44,999.16 1833.12,997.38 1836.81,995.6 1840.49,993.82 1844.17,992.04 1847.86,990.26 1851.54,988.48 1855.22,986.69 1858.91,984.91 1862.59,983.12 1866.27,981.33 1869.96,979.54 1873.64,977.75 1877.32,975.95 1881.01,974.16 1884.69,972.36 1888.37,970.56 1892.06,968.75 1895.74,966.95 1899.42,965.14 1903.11,963.33 1906.79,961.52 1910.48,959.7 1914.16,957.88 1917.84,956.06 1921.53,954.22 1925.21,952.38 1928.89,950.53 1932.58,948.67 1936.26,946.82 1939.94,944.96 1943.63,943.12 1947.31,941.29" fill="none" stroke="#E0992A" stroke-width="4" stroke-linejoin="round"/>
<polyline points="1214.3,1378.33 1217.98,1378.47 1221.67,1378.61 1225.35,1378.76 1229.03,1378.9 1232.72,1379.05 1236.4,1379.2 1240.08,1379.34 1243.77,1379.49 1247.45,1379.64 1251.13,1379.79 1254.82,1379.95 1258.5,1380.1 1262.19,1380.25 1265.87,1380.4 1269.55,1380.56 1273.24,1380.71 1276.92,1380.87 1280.6,1381.02 1284.29,1381.18 1287.97,1381.33 1291.65,1381.49 1295.34,1381.64 1299.02,1381.8 1302.7,1381.95 1306.39,1382.1 1310.07,1382.26 1313.75,1382.41 1317.44,1382.56 1321.12,1382.72 1324.8,1382.87 1328.49,1383.02 1332.17,1383.17 1335.85,1383.32 1339.54,1383.47 1343.22,1383.61 1346.9,1383.76 1350.59,1383.9 1354.27,1384.05 1357.96,1384.19 1361.64,1384.34 1365.32,1384.49 1369.01,1384.66 1372.69,1384.83 1376.37,1385.01 1380.06,1385.19 1383.74,1385.37 1387.42,1385.55 1391.11,1385.72 1394.79,1385.9 1398.47,1386.07 1402.16,1386.23 1405.84,1386.38 1409.52,1386.53 1413.21,1386.66 1416.89,1386.78 1420.57,1386.88 1424.26,1386.96 1427.94,1387.03 1431.62,1387.08 1435.31,1387.1 1438.99,1387.11 1442.67,1387.1 1446.36,1387.09 1450.04,1387.07 1453.73,1387.05 1457.41,1387.02 1461.09,1386.99 1464.78,1386.96 1468.46,1386.92 1472.14,1386.88 1475.83,1386.84 1479.51,1386.8 1483.19,1386.75 1486.88,1386.71 1490.56,1386.66 1494.24,1386.62 1497.93,1386.57 1501.61,1386.53 1505.29,1386.48 1508.98,1386.43 1512.66,1386.37 1516.34,1386.31 1520.03,1386.25 1523.71,1386.18 1527.39,1386.11 1531.08,1386.04 1534.76,1385.96 1538.45,1385.88 1542.13,1385.8 1545.81,1385.71 1549.5,1385.63 1553.18,1385.54 1556.86,1385.45 1560.55,1385.35 1564.23,1385.26 1567.91,1385.16 1571.6,1385.06 1575.28,1384.96 1578.96,1384.86 1582.65,1384.75 1586.33,1384.64 1590.01,1384.54 1593.7,1384.43 1597.38,1384.32 1601.06,1384.21 1604.75,1384.09 1608.43,1383.98 1612.11,1383.87 1615.8,1383.75 1619.48,1383.64 1623.16,1383.52 1626.85,1383.41 1630.53,1383.29 1634.22,1383.17 1637.9,1383.06 1641.58,1382.94 1645.27,1382.82 1648.95,1382.71 1652.63,1382.59 1656.32,1382.48 1660,1382.36 1663.68,1382.25 1667.37,1382.14 1671.05,1382.02 1674.73,1381.91 1678.42,1381.8 1682.1,1381.69 1685.78,1381.59 1689.47,1381.48 1693.15,1381.38 1696.83,1381.27 1700.52,1381.17 1704.2,1381.07 1707.88,1380.97 1711.57,1380.88 1715.25,1380.79 1718.94,1380.69 1722.62,1380.61 1726.3,1380.52 1729.99,1380.44 1733.67,1380.35 1737.35,1380.28 1741.04,1380.2 1744.72,1380.13 1748.4,1380.06 1752.09,1379.99 1755.77,1379.93 1759.45,1379.87 1763.14,1379.81 1766.82,1379.75 1770.5,1379.69 1774.19,1379.63 1777.87,1379.57 1781.55,1379.51 1785.24,1379.45 1788.92,1379.39 1792.6,1379.34 1796.29,1379.28 1799.97,1379.22 1803.65,1379.17 1807.34,1379.11 1811.02,1379.06 1814.71,1379 1818.39,1378.95 1822.07,1378.89 1825.76,1378.84 1829.44,1378.79 1833.12,1378.74 1836.81,1378.69 1840.49,1378.64 1844.17,1378.59 1847.86,1378.54 1851.54,1378.49 1855.22,1378.44 1858.91,1378.39 1862.59,1378.35 1866.27,1378.3 1869.96,1378.26 1873.64,1378.21 1877.32,1378.17 1881.01,1378.13 1884.69,1378.09 1888.37,1378.05 1892.06,1378.01 1895.74,1377.97 1899.42,1377.93 1903.11,1377.89 1906.79,1377.86 1910.48,1377.82 1914.16,1377.79 1917.84,1377.76 1921.53,1377.72 1925.21,1377.69 1928.89,1377.66 1932.58,1377.63 1936.26,1377.61 1939.94,1377.58 1943.63,1377.55 1947.31,1377.53" fill="none" stroke="#E0992A" stroke-width="4" stroke-linejoin="round"/>
<polyline points="1214.3,1104.88 1217.98,1106.03 1221.67,1107.17 1225.35,1108.31 1229.03,1109.44 1232.72,1110.57 1236.4,1111.69 1240.08,1112.79 1243.77,1113.89 1247.45,1114.98 1251.13,1116.06 1254.82,1117.12 1258.5,1118.17 1262.19,1119.21 1265.87,1120.23 1269.55,1121.24 1273.24,1122.23 1276.92,1123.21 1280.6,1124.17 1284.29,1125.12 1287.97,1126.06 1291.65,1127 1295.34,1127.93 1299.02,1128.86 1302.7,1129.77 1306.39,1130.67 1310.07,1131.57 1313.75,1132.45 1317.44,1133.33 1321.12,1134.19 1324.8,1135.05 1328.49,1135.89 1332.17,1136.72 1335.85,1137.54 1339.54,1138.34 1343.22,1139.14 1346.9,1139.91 1350.59,1140.68 1354.27,1141.43 1357.96,1142.17 1361.64,1142.91 1365.32,1143.65 1369.01,1144.4 1372.69,1145.14 1376.37,1145.86 1380.06,1146.56 1383.74,1147.22 1387.42,1147.84 1391.11,1148.41 1394.79,1148.92 1398.47,1149.36 1402.16,1149.76 1405.84,1150.16 1409.52,1150.55 1413.21,1150.93 1416.89,1151.28 1420.57,1151.6 1424.26,1151.88 1427.94,1152.1 1431.62,1152.26 1435.31,1152.35 1438.99,1152.35 1442.67,1152.27 1446.36,1152.11 1450.04,1151.89 1453.73,1151.61 1457.41,1151.29 1461.09,1150.94 1464.78,1150.56 1468.46,1150.18 1472.14,1149.76 1475.83,1149.23 1479.51,1148.59 1483.19,1147.89 1486.88,1147.13 1490.56,1146.35 1494.24,1145.56 1497.93,1144.78 1501.61,1144.02 1505.29,1143.25 1508.98,1142.46 1512.66,1141.67 1516.34,1140.86 1520.03,1140.04 1523.71,1139.21 1527.39,1138.37 1531.08,1137.51 1534.76,1136.65 1538.45,1135.78 1542.13,1134.9 1545.81,1134.01 1549.5,1133.11 1553.18,1132.2 1556.86,1131.28 1560.55,1130.35 1564.23,1129.42 1567.91,1128.47 1571.6,1127.52 1575.28,1126.56 1578.96,1125.6 1582.65,1124.63 1586.33,1123.65 1590.01,1122.66 1593.7,1121.67 1597.38,1120.67 1601.06,1119.66 1604.75,1118.65 1608.43,1117.62 1612.11,1116.59 1615.8,1115.56 1619.48,1114.51 1623.16,1113.46 1626.85,1112.4 1630.53,1111.33 1634.22,1110.26 1637.9,1109.18 1641.58,1108.09 1645.27,1106.99 1648.95,1105.88 1652.63,1104.77 1656.32,1103.65 1660,1102.52 1663.68,1101.38 1667.37,1100.24 1671.05,1099.09 1674.73,1097.93 1678.42,1096.76 1682.1,1095.58 1685.78,1094.4 1689.47,1093.21 1693.15,1092.01 1696.83,1090.8 1700.52,1089.59 1704.2,1088.37 1707.88,1087.14 1711.57,1085.9 1715.25,1084.65 1718.94,1083.4 1722.62,1082.14 1726.3,1080.86 1729.99,1079.59 1733.67,1078.3 1737.35,1077.01 1741.04,1075.7 1744.72,1074.39 1748.4,1073.08 1752.09,1071.75 1755.77,1070.42 1759.45,1069.07 1763.14,1067.69 1766.82,1066.29 1770.5,1064.87 1774.19,1063.42 1777.87,1061.96 1781.55,1060.47 1785.24,1058.96 1788.92,1057.44 1792.6,1055.9 1796.29,1054.34 1799.97,1052.77 1803.65,1051.19 1807.34,1049.59 1811.02,1047.99 1814.71,1046.37 1818.39,1044.74 1822.07,1043.11 1825.76,1041.47 1829.44,1039.82 1833.12,1038.17 1836.81,1036.52 1840.49,1034.86 1844.17,1033.2 1847.86,1031.55 1851.54,1029.89 1855.22,1028.24 1858.91,1026.58 1862.59,1024.94 1866.27,1023.3 1869.96,1021.66 1873.64,1020.04 1877.32,1018.42 1881.01,1016.81 1884.69,1015.21 1888.37,1013.63 1892.06,1012.06 1895.74,1010.5 1899.42,1008.96 1903.11,1007.44 1906.79,1005.93 1910.48,1004.44 1914.16,1002.98 1917.84,1001.54 1921.53,1000.15 1925.21,998.79 1928.89,997.45 1932.58,996.12 1936.26,994.77 1939.94,993.4 1943.63,991.98 1947.31,990.5" fill="none" stroke="#5A7FBA" stroke-width="4" stroke-linejoin="round"/>
<polyline points="1214.3,1326.33 1217.98,1327.06 1221.67,1327.78 1225.35,1328.49 1229.03,1329.2 1232.72,1329.9 1236.4,1330.6 1240.08,1331.31 1243.77,1332.01 1247.45,1332.72 1251.13,1333.43 1254.82,1334.15 1258.5,1334.87 1262.19,1335.61 1265.87,1336.36 1269.55,1337.13 1273.24,1337.91 1276.92,1338.71 1280.6,1339.53 1284.29,1340.38 1287.97,1341.26 1291.65,1342.15 1295.34,1343.07 1299.02,1344.01 1302.7,1344.95 1306.39,1345.92 1310.07,1346.89 1313.75,1347.86 1317.44,1348.85 1321.12,1349.83 1324.8,1350.82 1328.49,1351.8 1332.17,1352.77 1335.85,1353.74 1339.54,1354.7 1343.22,1355.64 1346.9,1356.57 1350.59,1357.48 1354.27,1358.37 1357.96,1359.23 1361.64,1360.12 1365.32,1361.05 1369.01,1362.02 1372.69,1363.02 1376.37,1364.03 1380.06,1365.03 1383.74,1366.03 1387.42,1367.01 1391.11,1367.95 1394.79,1368.84 1398.47,1369.68 1402.16,1370.45 1405.84,1371.14 1409.52,1371.73 1413.21,1372.22 1416.89,1372.59 1420.57,1372.84 1424.26,1372.98 1427.94,1373.11 1431.62,1373.21 1435.31,1373.26 1438.99,1373.26 1442.67,1373.15 1446.36,1372.92 1450.04,1372.59 1453.73,1372.18 1457.41,1371.67 1461.09,1371.1 1464.78,1370.47 1468.46,1369.78 1472.14,1369.06 1475.83,1368.3 1479.51,1367.53 1483.19,1366.74 1486.88,1365.96 1490.56,1365.18 1494.24,1364.43 1497.93,1363.7 1501.61,1362.98 1505.29,1362.21 1508.98,1361.41 1512.66,1360.57 1516.34,1359.7 1520.03,1358.8 1523.71,1357.88 1527.39,1356.94 1531.08,1355.97 1534.76,1354.99 1538.45,1353.99 1542.13,1352.98 1545.81,1351.96 1549.5,1350.94 1553.18,1349.92 1556.86,1348.89 1560.55,1347.87 1564.23,1346.85 1567.91,1345.84 1571.6,1344.84 1575.28,1343.86 1578.96,1342.89 1582.65,1341.95 1586.33,1341.02 1590.01,1340.13 1593.7,1339.26 1597.38,1338.42 1601.06,1337.59 1604.75,1336.77 1608.43,1335.94 1612.11,1335.12 1615.8,1334.3 1619.48,1333.49 1623.16,1332.68 1626.85,1331.87 1630.53,1331.06 1634.22,1330.26 1637.9,1329.46 1641.58,1328.66 1645.27,1327.87 1648.95,1327.09 1652.63,1326.3 1656.32,1325.53 1660,1324.75 1663.68,1323.99 1667.37,1323.22 1671.05,1322.47 1674.73,1321.72 1678.42,1320.97 1682.1,1320.24 1685.78,1319.5 1689.47,1318.78 1693.15,1318.06 1696.83,1317.35 1700.52,1316.64 1704.2,1315.95 1707.88,1315.26 1711.57,1314.58 1715.25,1313.9 1718.94,1313.24 1722.62,1312.58 1726.3,1311.93 1729.99,1311.3 1733.67,1310.67 1737.35,1310.05 1741.04,1309.43 1744.72,1308.83 1748.4,1308.24 1752.09,1307.66 1755.77,1307.09 1759.45,1306.53 1763.14,1305.97 1766.82,1305.41 1770.5,1304.87 1774.19,1304.32 1777.87,1303.78 1781.55,1303.25 1785.24,1302.72 1788.92,1302.19 1792.6,1301.67 1796.29,1301.15 1799.97,1300.64 1803.65,1300.13 1807.34,1299.63 1811.02,1299.14 1814.71,1298.64 1818.39,1298.16 1822.07,1297.67 1825.76,1297.19 1829.44,1296.72 1833.12,1296.25 1836.81,1295.79 1840.49,1295.33 1844.17,1294.88 1847.86,1294.43 1851.54,1293.99 1855.22,1293.55 1858.91,1293.11 1862.59,1292.69 1866.27,1292.26 1869.96,1291.84 1873.64,1291.43 1877.32,1291.02 1881.01,1290.62 1884.69,1290.22 1888.37,1289.82 1892.06,1289.44 1895.74,1289.05 1899.42,1288.67 1903.11,1288.3 1906.79,1287.93 1910.48,1287.57 1914.16,1287.21 1917.84,1286.86 1921.53,1286.52 1925.21,1286.18 1928.89,1285.86 1932.58,1285.55 1936.26,1285.25 1939.94,1284.96 1943.63,1284.69 1947.31,1284.43" fill="none" stroke="#5A7FBA" stroke-width="4" stroke-linejoin="round"/>
<polyline points="1214.3,1154.09 1217.98,1154.09 1221.67,1154.09 1225.35,1154.09 1229.03,1154.09 1232.72,1154.09 1236.4,1154.09 1240.08,1154.09 1243.77,1154.09 1247.45,1154.09 1251.13,1154.09 1254.82,1154.09 1258.5,1154.09 1262.19,1154.09 1265.87,1154.09 1269.55,1154.09 1273.24,1154.09 1276.92,1154.09 1280.6,1154.09 1284.29,1154.09 1287.97,1154.09 1291.65,1154.09 1295.34,1154.09 1299.02,1154.09 1302.7,1154.09 1306.39,1154.09 1310.07,1154.09 1313.75,1154.09 1317.44,1154.08 1321.12,1154.07 1324.8,1154.06 1328.49,1154.04 1332.17,1154.01 1335.85,1153.99 1339.54,1153.96 1343.22,1153.92 1346.9,1153.88 1350.59,1153.84 1354.27,1153.8 1357.96,1153.75 1361.64,1153.69 1365.32,1153.63 1369.01,1153.57 1372.69,1153.51 1376.37,1153.44 1380.06,1153.36 1383.74,1153.29 1387.42,1153.21 1391.11,1153.12 1394.79,1153.04 1398.47,1152.94 1402.16,1152.85 1405.84,1152.75 1409.52,1152.61 1413.21,1152.4 1416.89,1152.14 1420.57,1151.84 1424.26,1151.49 1427.94,1151.12 1431.62,1150.73 1435.31,1150.33 1438.99,1149.92 1442.67,1149.48 1446.36,1148.99 1450.04,1148.47 1453.73,1147.9 1457.41,1147.31 1461.09,1146.69 1464.78,1146.04 1468.46,1145.36 1472.14,1144.66 1475.83,1143.95 1479.51,1143.22 1483.19,1142.48 1486.88,1141.73 1490.56,1140.98 1494.24,1140.22 1497.93,1139.46 1501.61,1138.7 1505.29,1137.91 1508.98,1137.11 1512.66,1136.29 1516.34,1135.45 1520.03,1134.6 1523.71,1133.73 1527.39,1132.85 1531.08,1131.95 1534.76,1131.04 1538.45,1130.12 1542.13,1129.18 1545.81,1128.23 1549.5,1127.27 1553.18,1126.3 1556.86,1125.31 1560.55,1124.32 1564.23,1123.32 1567.91,1122.31 1571.6,1121.29 1575.28,1120.27 1578.96,1119.24 1582.65,1118.2 1586.33,1117.16 1590.01,1116.11 1593.7,1115.06 1597.38,1114.01 1601.06,1112.94 1604.75,1111.87 1608.43,1110.79 1612.11,1109.7 1615.8,1108.61 1619.48,1107.5 1623.16,1106.38 1626.85,1105.26 1630.53,1104.13 1634.22,1102.98 1637.9,1101.84 1641.58,1100.68 1645.27,1099.51 1648.95,1098.34 1652.63,1097.16 1656.32,1095.96 1660,1094.77 1663.68,1093.56 1667.37,1092.35 1671.05,1091.13 1674.73,1089.9 1678.42,1088.66 1682.1,1087.42 1685.78,1086.17 1689.47,1084.91 1693.15,1083.64 1696.83,1082.37 1700.52,1081.09 1704.2,1079.8 1707.88,1078.51 1711.57,1077.21 1715.25,1075.9 1718.94,1074.59 1722.62,1073.27 1726.3,1071.94 1729.99,1070.61 1733.67,1069.27 1737.35,1067.93 1741.04,1066.57 1744.72,1065.22 1748.4,1063.85 1752.09,1062.48 1755.77,1061.11 1759.45,1059.71 1763.14,1058.27 1766.82,1056.79 1770.5,1055.27 1774.19,1053.72 1777.87,1052.13 1781.55,1050.51 1785.24,1048.86 1788.92,1047.19 1792.6,1045.5 1796.29,1043.78 1799.97,1042.05 1803.65,1040.3 1807.34,1038.54 1811.02,1036.77 1814.71,1034.99 1818.39,1033.21 1822.07,1031.42 1825.76,1029.64 1829.44,1027.85 1833.12,1026.08 1836.81,1024.31 1840.49,1022.55 1844.17,1020.8 1847.86,1019.07 1851.54,1017.36 1855.22,1015.67 1858.91,1014 1862.59,1012.35 1866.27,1010.74 1869.96,1009.16 1873.64,1007.61 1877.32,1006.09 1881.01,1004.62 1884.69,1003.18 1888.37,1001.79 1892.06,1000.45 1895.74,999.15 1899.42,997.91 1903.11,996.72 1906.79,995.58 1910.48,994.51 1914.16,993.5 1917.84,992.56 1921.53,991.73 1925.21,990.99 1928.89,990.29 1932.58,989.62 1936.26,988.94 1939.94,988.21 1943.63,987.41 1947.31,986.51" fill="none" stroke="#E0992A" stroke-width="3.6" stroke-linejoin="round" stroke-dasharray="8.5 8.2"/>
<polyline points="1214.3,1311.03 1217.98,1312.32 1221.67,1313.6 1225.35,1314.86 1229.03,1316.12 1232.72,1317.36 1236.4,1318.6 1240.08,1319.83 1243.77,1321.05 1247.45,1322.27 1251.13,1323.48 1254.82,1324.69 1258.5,1325.9 1262.19,1327.11 1265.87,1328.31 1269.55,1329.52 1273.24,1330.73 1276.92,1331.94 1280.6,1333.16 1284.29,1334.41 1287.97,1335.67 1291.65,1336.96 1295.34,1338.25 1299.02,1339.56 1302.7,1340.87 1306.39,1342.18 1310.07,1343.48 1313.75,1344.78 1317.44,1346.07 1321.12,1347.34 1324.8,1348.59 1328.49,1349.82 1332.17,1351.02 1335.85,1352.19 1339.54,1353.32 1343.22,1354.42 1346.9,1355.46 1350.59,1356.46 1354.27,1357.41 1357.96,1358.3 1361.64,1359.18 1365.32,1360.08 1369.01,1361 1372.69,1361.92 1376.37,1362.85 1380.06,1363.77 1383.74,1364.68 1387.42,1365.57 1391.11,1366.45 1394.79,1367.29 1398.47,1368.1 1402.16,1368.86 1405.84,1369.58 1409.52,1370.25 1413.21,1370.85 1416.89,1371.39 1420.57,1371.85 1424.26,1372.24 1427.94,1372.54 1431.62,1372.75 1435.31,1372.86 1438.99,1372.86 1442.67,1372.74 1446.36,1372.5 1450.04,1372.16 1453.73,1371.71 1457.41,1371.19 1461.09,1370.58 1464.78,1369.92 1468.46,1369.2 1472.14,1368.44 1475.83,1367.65 1479.51,1366.84 1483.19,1366.03 1486.88,1365.21 1490.56,1364.42 1494.24,1363.64 1497.93,1362.9 1501.61,1362.17 1505.29,1361.4 1508.98,1360.61 1512.66,1359.78 1516.34,1358.93 1520.03,1358.06 1523.71,1357.16 1527.39,1356.24 1531.08,1355.31 1534.76,1354.37 1538.45,1353.41 1542.13,1352.44 1545.81,1351.47 1549.5,1350.49 1553.18,1349.51 1556.86,1348.53 1560.55,1347.55 1564.23,1346.58 1567.91,1345.61 1571.6,1344.65 1575.28,1343.71 1578.96,1342.78 1582.65,1341.86 1586.33,1340.97 1590.01,1340.09 1593.7,1339.24 1597.38,1338.42 1601.06,1337.61 1604.75,1336.79 1608.43,1335.98 1612.11,1335.17 1615.8,1334.37 1619.48,1333.56 1623.16,1332.76 1626.85,1331.96 1630.53,1331.17 1634.22,1330.37 1637.9,1329.58 1641.58,1328.8 1645.27,1328.02 1648.95,1327.24 1652.63,1326.46 1656.32,1325.69 1660,1324.93 1663.68,1324.16 1667.37,1323.41 1671.05,1322.65 1674.73,1321.91 1678.42,1321.17 1682.1,1320.43 1685.78,1319.7 1689.47,1318.97 1693.15,1318.25 1696.83,1317.54 1700.52,1316.83 1704.2,1316.13 1707.88,1315.44 1711.57,1314.75 1715.25,1314.07 1718.94,1313.4 1722.62,1312.73 1726.3,1312.07 1729.99,1311.42 1733.67,1310.78 1737.35,1310.14 1741.04,1309.51 1744.72,1308.9 1748.4,1308.29 1752.09,1307.68 1755.77,1307.09 1759.45,1306.5 1763.14,1305.92 1766.82,1305.34 1770.5,1304.76 1774.19,1304.19 1777.87,1303.62 1781.55,1303.05 1785.24,1302.49 1788.92,1301.93 1792.6,1301.37 1796.29,1300.82 1799.97,1300.27 1803.65,1299.72 1807.34,1299.18 1811.02,1298.65 1814.71,1298.12 1818.39,1297.59 1822.07,1297.07 1825.76,1296.55 1829.44,1296.04 1833.12,1295.53 1836.81,1295.03 1840.49,1294.53 1844.17,1294.04 1847.86,1293.55 1851.54,1293.07 1855.22,1292.6 1858.91,1292.13 1862.59,1291.67 1866.27,1291.21 1869.96,1290.76 1873.64,1290.32 1877.32,1289.88 1881.01,1289.45 1884.69,1289.02 1888.37,1288.61 1892.06,1288.2 1895.74,1287.79 1899.42,1287.4 1903.11,1287.01 1906.79,1286.63 1910.48,1286.25 1914.16,1285.89 1917.84,1285.53 1921.53,1285.18 1925.21,1284.85 1928.89,1284.52 1932.58,1284.21 1936.26,1283.91 1939.94,1283.63 1943.63,1283.36 1947.31,1283.1" fill="none" stroke="#E0992A" stroke-width="3.6" stroke-linejoin="round" stroke-dasharray="8.5 8.2"/>
</g>
<path d="M1278.04 1010.45V1180.69M1270.74 1010.45h14.6M1270.74 1180.69h14.6M1357.72 1107.54V1179.36M1350.42 1107.54h14.6M1350.42 1179.36h14.6M1437.39 1131.48V1190M1430.09 1131.48h14.6M1430.09 1190h14.6M1596.74 1087.59V1155.42M1589.44 1087.59h14.6M1589.44 1155.42h14.6M1756.09 1022.42V1102.22M1748.79 1022.42h14.6M1748.79 1102.22h14.6M1915.44 962.57V1026.41M1908.14 962.57h14.6M1908.14 1026.41h14.6M1278.04 1284.43V1340.29M1270.74 1284.43h14.6M1270.74 1340.29h14.6M1357.72 1289.75V1384.18M1350.42 1289.75h14.6M1350.42 1384.18h14.6M1437.39 1333.64V1358.24M1430.09 1333.64h14.6M1430.09 1358.24h14.6M1596.74 1307.7V1372.48M1589.44 1307.7h14.6M1589.44 1372.48h14.6M1756.09 1285.76V1374.87M1748.79 1285.76h14.6M1748.79 1374.87h14.6M1915.44 1284.43V1382.45M1908.14 1284.43h14.6M1908.14 1382.45h14.6" stroke="#000" stroke-width="2.7" fill="none"/>
<path d="M1278.04 1095.57h0M1357.72 1143.45h0M1437.39 1160.74h0M1596.74 1120.84h0M1756.09 1062.32h0M1915.44 994.49h0M1278.04 1312.63h0M1357.72 1336.96h0M1437.39 1345.61h0M1596.74 1339.89h0M1756.09 1330.32h0M1915.44 1334.04h0" stroke="#000" stroke-width="17" stroke-linecap="round" fill="none"/>
<text transform="translate(1149.2 1195) rotate(-90)" font-size="39.2" text-anchor="middle">rates <tspan font-style="italic">k</tspan><tspan font-size="32" dy="6.3"><tspan font-family="NanumGothic, Liberation Sans, sans-serif" font-size="0.92em">1</tspan></tspan><tspan dy="-6.3"> and </tspan><tspan font-style="italic">k</tspan><tspan font-size="32" dy="6.3">2</tspan><tspan dy="-6.3"> [s</tspan><tspan font-size="32" dy="-16">-<tspan font-family="NanumGothic, Liberation Sans, sans-serif" font-size="0.92em">1</tspan></tspan><tspan dy="16">]</tspan></text>
<text x="1491" y="1491" font-size="39.2">[L]<tspan font-size="24" dy="9.5">0</tspan><tspan dy="-9.5"> [</tspan>μM]</text>
<path d="M1144.7 792.2V688H1297V792.2H1144.7" fill="none" stroke="#8CB133" stroke-width="6" stroke-dasharray="39.4 39.4"/>
<path d="M1214.3 1403H1947.5V950H1214.3V1403" fill="none" stroke="#8CB133" stroke-width="5.8" stroke-dasharray="44.2 44.2"/>
<path d="M1145 793L1214.5 949.5" fill="none" stroke="#8CB133" stroke-width="3.4" stroke-dasharray="39.6 39.6"/>
<path d="M1297.5 792.5L1947.5 950" fill="none" stroke="#8CB133" stroke-width="3.4" stroke-dasharray="39.5 39.5"/>
</svg>
</body></html>
